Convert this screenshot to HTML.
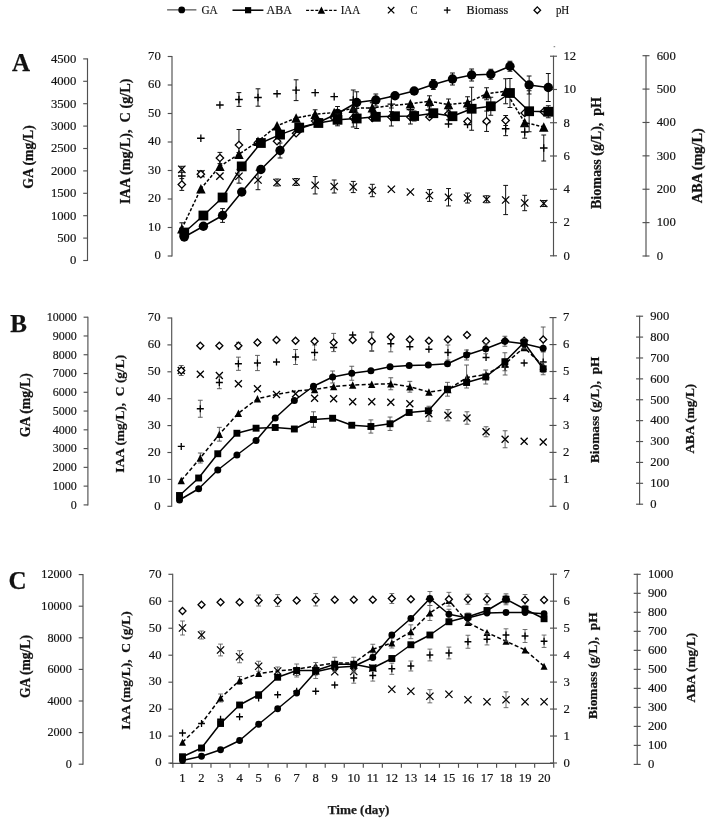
<!DOCTYPE html>
<html><head><meta charset="utf-8"><title>Figure</title>
<style>html,body{margin:0;padding:0;background:#fff;}svg{display:block;font-family:"Liberation Serif",serif;filter:blur(0.45px);}</style>
</head><body>
<svg width="708" height="821" viewBox="0 0 708 821">
<rect width="708" height="821" fill="#fff"/>
<line x1="167.10" y1="9.90" x2="196.40" y2="9.90" stroke="#2a2a2a" stroke-width="1.0" />
<circle cx="181.70" cy="9.90" r="3.4" fill="#000"/>
<text x="201.40" y="14.40" font-size="13.2" text-anchor="start" font-weight="normal" fill="#141414" stroke="#141414" stroke-width="0.2"  textLength="16.3" lengthAdjust="spacingAndGlyphs">GA</text>
<line x1="232.50" y1="10.20" x2="263.40" y2="10.20" stroke="#000" stroke-width="1.5" />
<rect x="245.00" y="7.10" width="6.2" height="6.2" fill="#000"/>
<text x="266.60" y="14.40" font-size="13.2" text-anchor="start" font-weight="normal" fill="#141414" stroke="#141414" stroke-width="0.2"  textLength="25.2" lengthAdjust="spacingAndGlyphs">ABA</text>
<line x1="306.10" y1="10.40" x2="336.60" y2="10.40" stroke="#000" stroke-width="1.3" stroke-dasharray="3 1.6"/>
<path d="M321.40 6.40 L325.10 13.80 L317.70 13.80Z" fill="#000"/>
<text x="340.70" y="14.40" font-size="13.2" text-anchor="start" font-weight="normal" fill="#141414" stroke="#141414" stroke-width="0.2"  textLength="19.6" lengthAdjust="spacingAndGlyphs">IAA</text>
<path d="M387.90 7.00L394.30 13.40M387.90 13.40L394.30 7.00" stroke="#000" stroke-width="1.25" fill="none"/>
<text x="410.60" y="14.40" font-size="13.2" text-anchor="start" font-weight="normal" fill="#141414" stroke="#141414" stroke-width="0.2"  textLength="6.9" lengthAdjust="spacingAndGlyphs">C</text>
<path d="M443.90 10.20L450.50 10.20M447.20 6.90L447.20 13.50" stroke="#000" stroke-width="1.25" fill="none"/>
<text x="466.60" y="14.40" font-size="13.2" text-anchor="start" font-weight="normal" fill="#141414" stroke="#141414" stroke-width="0.2"  textLength="41.6" lengthAdjust="spacingAndGlyphs">Biomass</text>
<path d="M537.30 6.90L540.60 10.20L537.30 13.50L534.00 10.20Z" stroke="#000" stroke-width="1.25" fill="#fff"/>
<text x="555.90" y="14.40" font-size="13.2" text-anchor="start" font-weight="normal" fill="#141414" stroke="#141414" stroke-width="0.2"  textLength="13.4" lengthAdjust="spacingAndGlyphs">pH</text>
<line x1="87.50" y1="58.40" x2="87.50" y2="261.00" stroke="#505050" stroke-width="1.15" />
<line x1="83.20" y1="260.50" x2="87.50" y2="260.50" stroke="#505050" stroke-width="1.15" />
<text x="0" y="0" font-size="13.334999999999999" text-anchor="end" font-weight="normal" fill="#141414" stroke="#141414" stroke-width="0.2" transform="translate(76.30 264.30) scale(0.952 1)" >0</text>
<line x1="83.20" y1="238.10" x2="87.50" y2="238.10" stroke="#505050" stroke-width="1.15" />
<text x="0" y="0" font-size="13.334999999999999" text-anchor="end" font-weight="normal" fill="#141414" stroke="#141414" stroke-width="0.2" transform="translate(76.30 241.90) scale(0.952 1)" >500</text>
<line x1="83.20" y1="215.70" x2="87.50" y2="215.70" stroke="#505050" stroke-width="1.15" />
<text x="0" y="0" font-size="13.334999999999999" text-anchor="end" font-weight="normal" fill="#141414" stroke="#141414" stroke-width="0.2" transform="translate(76.30 219.50) scale(0.952 1)" >1000</text>
<line x1="83.20" y1="193.30" x2="87.50" y2="193.30" stroke="#505050" stroke-width="1.15" />
<text x="0" y="0" font-size="13.334999999999999" text-anchor="end" font-weight="normal" fill="#141414" stroke="#141414" stroke-width="0.2" transform="translate(76.30 197.10) scale(0.952 1)" >1500</text>
<line x1="83.20" y1="170.90" x2="87.50" y2="170.90" stroke="#505050" stroke-width="1.15" />
<text x="0" y="0" font-size="13.334999999999999" text-anchor="end" font-weight="normal" fill="#141414" stroke="#141414" stroke-width="0.2" transform="translate(76.30 174.70) scale(0.952 1)" >2000</text>
<line x1="83.20" y1="148.50" x2="87.50" y2="148.50" stroke="#505050" stroke-width="1.15" />
<text x="0" y="0" font-size="13.334999999999999" text-anchor="end" font-weight="normal" fill="#141414" stroke="#141414" stroke-width="0.2" transform="translate(76.30 152.30) scale(0.952 1)" >2500</text>
<line x1="83.20" y1="126.10" x2="87.50" y2="126.10" stroke="#505050" stroke-width="1.15" />
<text x="0" y="0" font-size="13.334999999999999" text-anchor="end" font-weight="normal" fill="#141414" stroke="#141414" stroke-width="0.2" transform="translate(76.30 129.90) scale(0.952 1)" >3000</text>
<line x1="83.20" y1="103.70" x2="87.50" y2="103.70" stroke="#505050" stroke-width="1.15" />
<text x="0" y="0" font-size="13.334999999999999" text-anchor="end" font-weight="normal" fill="#141414" stroke="#141414" stroke-width="0.2" transform="translate(76.30 107.50) scale(0.952 1)" >3500</text>
<line x1="83.20" y1="81.30" x2="87.50" y2="81.30" stroke="#505050" stroke-width="1.15" />
<text x="0" y="0" font-size="13.334999999999999" text-anchor="end" font-weight="normal" fill="#141414" stroke="#141414" stroke-width="0.2" transform="translate(76.30 85.10) scale(0.952 1)" >4000</text>
<line x1="83.20" y1="58.90" x2="87.50" y2="58.90" stroke="#505050" stroke-width="1.15" />
<text x="0" y="0" font-size="13.334999999999999" text-anchor="end" font-weight="normal" fill="#141414" stroke="#141414" stroke-width="0.2" transform="translate(76.30 62.70) scale(0.952 1)" >4500</text>
<line x1="172.00" y1="56.00" x2="172.00" y2="256.50" stroke="#505050" stroke-width="1.15" />
<line x1="167.70" y1="256.00" x2="172.00" y2="256.00" stroke="#505050" stroke-width="1.15" />
<text x="0" y="0" font-size="13.334999999999999" text-anchor="end" font-weight="normal" fill="#141414" stroke="#141414" stroke-width="0.2" transform="translate(160.80 259.30) scale(0.952 1)" >0</text>
<line x1="167.70" y1="227.50" x2="172.00" y2="227.50" stroke="#505050" stroke-width="1.15" />
<text x="0" y="0" font-size="13.334999999999999" text-anchor="end" font-weight="normal" fill="#141414" stroke="#141414" stroke-width="0.2" transform="translate(160.80 230.80) scale(0.952 1)" >10</text>
<line x1="167.70" y1="199.00" x2="172.00" y2="199.00" stroke="#505050" stroke-width="1.15" />
<text x="0" y="0" font-size="13.334999999999999" text-anchor="end" font-weight="normal" fill="#141414" stroke="#141414" stroke-width="0.2" transform="translate(160.80 202.30) scale(0.952 1)" >20</text>
<line x1="167.70" y1="170.50" x2="172.00" y2="170.50" stroke="#505050" stroke-width="1.15" />
<text x="0" y="0" font-size="13.334999999999999" text-anchor="end" font-weight="normal" fill="#141414" stroke="#141414" stroke-width="0.2" transform="translate(160.80 173.80) scale(0.952 1)" >30</text>
<line x1="167.70" y1="142.00" x2="172.00" y2="142.00" stroke="#505050" stroke-width="1.15" />
<text x="0" y="0" font-size="13.334999999999999" text-anchor="end" font-weight="normal" fill="#141414" stroke="#141414" stroke-width="0.2" transform="translate(160.80 145.30) scale(0.952 1)" >40</text>
<line x1="167.70" y1="113.50" x2="172.00" y2="113.50" stroke="#505050" stroke-width="1.15" />
<text x="0" y="0" font-size="13.334999999999999" text-anchor="end" font-weight="normal" fill="#141414" stroke="#141414" stroke-width="0.2" transform="translate(160.80 116.80) scale(0.952 1)" >50</text>
<line x1="167.70" y1="85.00" x2="172.00" y2="85.00" stroke="#505050" stroke-width="1.15" />
<text x="0" y="0" font-size="13.334999999999999" text-anchor="end" font-weight="normal" fill="#141414" stroke="#141414" stroke-width="0.2" transform="translate(160.80 88.30) scale(0.952 1)" >60</text>
<line x1="167.70" y1="56.50" x2="172.00" y2="56.50" stroke="#505050" stroke-width="1.15" />
<text x="0" y="0" font-size="13.334999999999999" text-anchor="end" font-weight="normal" fill="#141414" stroke="#141414" stroke-width="0.2" transform="translate(160.80 59.80) scale(0.952 1)" >70</text>
<line x1="553.50" y1="55.70" x2="553.50" y2="256.30" stroke="#505050" stroke-width="1.15" />
<line x1="550.00" y1="255.80" x2="557.00" y2="255.80" stroke="#505050" stroke-width="1.15" />
<text x="0" y="0" font-size="13.334999999999999" text-anchor="start" font-weight="normal" fill="#141414" stroke="#141414" stroke-width="0.2" transform="translate(563.50 259.60) scale(0.952 1)" >0</text>
<line x1="550.00" y1="222.53" x2="557.00" y2="222.53" stroke="#505050" stroke-width="1.15" />
<text x="0" y="0" font-size="13.334999999999999" text-anchor="start" font-weight="normal" fill="#141414" stroke="#141414" stroke-width="0.2" transform="translate(563.50 226.33) scale(0.952 1)" >2</text>
<line x1="550.00" y1="189.27" x2="557.00" y2="189.27" stroke="#505050" stroke-width="1.15" />
<text x="0" y="0" font-size="13.334999999999999" text-anchor="start" font-weight="normal" fill="#141414" stroke="#141414" stroke-width="0.2" transform="translate(563.50 193.07) scale(0.952 1)" >4</text>
<line x1="550.00" y1="156.00" x2="557.00" y2="156.00" stroke="#505050" stroke-width="1.15" />
<text x="0" y="0" font-size="13.334999999999999" text-anchor="start" font-weight="normal" fill="#141414" stroke="#141414" stroke-width="0.2" transform="translate(563.50 159.80) scale(0.952 1)" >6</text>
<line x1="550.00" y1="122.73" x2="557.00" y2="122.73" stroke="#505050" stroke-width="1.15" />
<text x="0" y="0" font-size="13.334999999999999" text-anchor="start" font-weight="normal" fill="#141414" stroke="#141414" stroke-width="0.2" transform="translate(563.50 126.53) scale(0.952 1)" >8</text>
<line x1="550.00" y1="89.47" x2="557.00" y2="89.47" stroke="#505050" stroke-width="1.15" />
<text x="0" y="0" font-size="13.334999999999999" text-anchor="start" font-weight="normal" fill="#141414" stroke="#141414" stroke-width="0.2" transform="translate(563.50 93.27) scale(0.952 1)" >10</text>
<line x1="550.00" y1="56.20" x2="557.00" y2="56.20" stroke="#505050" stroke-width="1.15" />
<text x="0" y="0" font-size="13.334999999999999" text-anchor="start" font-weight="normal" fill="#141414" stroke="#141414" stroke-width="0.2" transform="translate(563.50 60.00) scale(0.952 1)" >12</text>
<line x1="646.00" y1="55.20" x2="646.00" y2="256.50" stroke="#505050" stroke-width="1.15" />
<line x1="642.50" y1="256.00" x2="649.50" y2="256.00" stroke="#505050" stroke-width="1.15" />
<text x="0" y="0" font-size="13.334999999999999" text-anchor="start" font-weight="normal" fill="#141414" stroke="#141414" stroke-width="0.2" transform="translate(656.70 259.80) scale(0.952 1)" >0</text>
<line x1="642.50" y1="222.62" x2="649.50" y2="222.62" stroke="#505050" stroke-width="1.15" />
<text x="0" y="0" font-size="13.334999999999999" text-anchor="start" font-weight="normal" fill="#141414" stroke="#141414" stroke-width="0.2" transform="translate(656.70 226.42) scale(0.952 1)" >100</text>
<line x1="642.50" y1="189.23" x2="649.50" y2="189.23" stroke="#505050" stroke-width="1.15" />
<text x="0" y="0" font-size="13.334999999999999" text-anchor="start" font-weight="normal" fill="#141414" stroke="#141414" stroke-width="0.2" transform="translate(656.70 193.03) scale(0.952 1)" >200</text>
<line x1="642.50" y1="155.85" x2="649.50" y2="155.85" stroke="#505050" stroke-width="1.15" />
<text x="0" y="0" font-size="13.334999999999999" text-anchor="start" font-weight="normal" fill="#141414" stroke="#141414" stroke-width="0.2" transform="translate(656.70 159.65) scale(0.952 1)" >300</text>
<line x1="642.50" y1="122.47" x2="649.50" y2="122.47" stroke="#505050" stroke-width="1.15" />
<text x="0" y="0" font-size="13.334999999999999" text-anchor="start" font-weight="normal" fill="#141414" stroke="#141414" stroke-width="0.2" transform="translate(656.70 126.27) scale(0.952 1)" >400</text>
<line x1="642.50" y1="89.08" x2="649.50" y2="89.08" stroke="#505050" stroke-width="1.15" />
<text x="0" y="0" font-size="13.334999999999999" text-anchor="start" font-weight="normal" fill="#141414" stroke="#141414" stroke-width="0.2" transform="translate(656.70 92.88) scale(0.952 1)" >500</text>
<line x1="642.50" y1="55.70" x2="649.50" y2="55.70" stroke="#505050" stroke-width="1.15" />
<text x="0" y="0" font-size="13.334999999999999" text-anchor="start" font-weight="normal" fill="#141414" stroke="#141414" stroke-width="0.2" transform="translate(656.70 59.50) scale(0.952 1)" >600</text>
<text x="33.00" y="157.00" font-size="13.7" text-anchor="middle" font-weight="bold" fill="#111" stroke="#111" stroke-width="0.25" transform="rotate(-90 33.00 157.00)" >GA (mg/L)</text>
<text x="130.50" y="141.20" font-size="14.25" text-anchor="middle" font-weight="bold" fill="#111" stroke="#111" stroke-width="0.25" transform="rotate(-90 130.50 141.20)" >IAA (mg/L),&#160; C (g/L)</text>
<text x="601.20" y="153.00" font-size="14" text-anchor="middle" font-weight="bold" fill="#111" stroke="#111" stroke-width="0.25" transform="rotate(-90 601.20 153.00)" >Biomass (g/L),&#160; pH</text>
<text x="701.80" y="165.80" font-size="14.3" text-anchor="middle" font-weight="bold" fill="#111" stroke="#111" stroke-width="0.25" transform="rotate(-90 701.80 165.80)" >ABA (mg/L)</text>
<text x="12.00" y="71.00" font-size="25" text-anchor="start" font-weight="bold" fill="#111" stroke="#111" stroke-width="0.25" >A</text>
<path d="M181.80 222.80L181.80 228.80M179.40 222.80L184.20 222.80M179.40 228.80L184.20 228.80" stroke="#111111" stroke-width="1.0" fill="none"/>
<path d="M315.15 109.80L315.15 118.80M312.75 109.80L317.55 109.80M312.75 118.80L317.55 118.80" stroke="#111111" stroke-width="1.0" fill="none"/>
<path d="M372.30 102.80L372.30 112.80M369.90 102.80L374.70 102.80M369.90 112.80L374.70 112.80" stroke="#111111" stroke-width="1.0" fill="none"/>
<path d="M429.45 95.80L429.45 106.80M427.05 95.80L431.85 95.80M427.05 106.80L431.85 106.80" stroke="#111111" stroke-width="1.0" fill="none"/>
<path d="M448.50 99.00L448.50 110.00M446.10 99.00L450.90 99.00M446.10 110.00L450.90 110.00" stroke="#111111" stroke-width="1.0" fill="none"/>
<path d="M467.55 96.75L467.55 108.75M465.15 96.75L469.95 96.75M465.15 108.75L469.95 108.75" stroke="#111111" stroke-width="1.0" fill="none"/>
<path d="M486.60 87.75L486.60 99.75M484.20 87.75L489.00 87.75M484.20 99.75L489.00 99.75" stroke="#111111" stroke-width="1.0" fill="none"/>
<path d="M505.65 78.75L505.65 103.75M503.25 78.75L508.05 78.75M503.25 103.75L508.05 103.75" stroke="#111111" stroke-width="1.0" fill="none"/>
<polyline points="181.80,228.80 200.85,188.75 219.90,166.20 238.95,154.20 258.00,141.25 277.05,125.80 296.10,118.00 315.15,114.30 334.20,112.50 353.25,108.30 372.30,107.80 391.35,105.70 410.40,103.70 429.45,101.30 448.50,104.50 467.55,102.75 486.60,93.75 505.65,91.25 524.70,122.50 543.75,127.00" fill="none" stroke="#000" stroke-width="1.5" stroke-dasharray="3.1 1.8" stroke-linejoin="round"/>
<path d="M181.80 224.05 L186.55 233.55 L177.05 233.55Z" fill="#000"/>
<path d="M200.85 184.00 L205.60 193.50 L196.10 193.50Z" fill="#000"/>
<path d="M219.90 161.45 L224.65 170.95 L215.15 170.95Z" fill="#000"/>
<path d="M238.95 149.45 L243.70 158.95 L234.20 158.95Z" fill="#000"/>
<path d="M258.00 136.50 L262.75 146.00 L253.25 146.00Z" fill="#000"/>
<path d="M277.05 121.05 L281.80 130.55 L272.30 130.55Z" fill="#000"/>
<path d="M296.10 113.25 L300.85 122.75 L291.35 122.75Z" fill="#000"/>
<path d="M315.15 109.55 L319.90 119.05 L310.40 119.05Z" fill="#000"/>
<path d="M334.20 107.75 L338.95 117.25 L329.45 117.25Z" fill="#000"/>
<path d="M353.25 103.55 L358.00 113.05 L348.50 113.05Z" fill="#000"/>
<path d="M372.30 103.05 L377.05 112.55 L367.55 112.55Z" fill="#000"/>
<path d="M410.40 98.95 L415.15 108.45 L405.65 108.45Z" fill="#000"/>
<path d="M429.45 96.55 L434.20 106.05 L424.70 106.05Z" fill="#000"/>
<path d="M448.50 99.75 L453.25 109.25 L443.75 109.25Z" fill="#000"/>
<path d="M467.55 98.00 L472.30 107.50 L462.80 107.50Z" fill="#000"/>
<path d="M486.60 89.00 L491.35 98.50 L481.85 98.50Z" fill="#000"/>
<path d="M505.65 86.50 L510.40 96.00 L500.90 96.00Z" fill="#000"/>
<path d="M524.70 117.75 L529.45 127.25 L519.95 127.25Z" fill="#000"/>
<path d="M543.75 122.25 L548.50 131.75 L539.00 131.75Z" fill="#000"/>
<path d="M181.80 166.30L181.80 172.30M179.40 166.30L184.20 166.30M179.40 172.30L184.20 172.30" stroke="#111111" stroke-width="1.0" fill="none"/>
<path d="M200.85 170.75L200.85 176.75M198.45 170.75L203.25 170.75M198.45 176.75L203.25 176.75" stroke="#111111" stroke-width="1.0" fill="none"/>
<path d="M238.95 169.35L238.95 183.15M236.55 169.35L241.35 169.35M236.55 183.15L241.35 183.15" stroke="#111111" stroke-width="1.0" fill="none"/>
<path d="M258.00 170.30L258.00 189.70M255.60 170.30L260.40 170.30M255.60 189.70L260.40 189.70" stroke="#111111" stroke-width="1.0" fill="none"/>
<path d="M277.05 179.00L277.05 186.00M274.65 179.00L279.45 179.00M274.65 186.00L279.45 186.00" stroke="#111111" stroke-width="1.0" fill="none"/>
<path d="M296.10 178.50L296.10 185.50M293.70 178.50L298.50 178.50M293.70 185.50L298.50 185.50" stroke="#111111" stroke-width="1.0" fill="none"/>
<path d="M315.15 176.55L315.15 193.95M312.75 176.55L317.55 176.55M312.75 193.95L317.55 193.95" stroke="#111111" stroke-width="1.0" fill="none"/>
<path d="M334.20 180.00L334.20 193.00M331.80 180.00L336.60 180.00M331.80 193.00L336.60 193.00" stroke="#111111" stroke-width="1.0" fill="none"/>
<path d="M353.25 181.40L353.25 192.60M350.85 181.40L355.65 181.40M350.85 192.60L355.65 192.60" stroke="#111111" stroke-width="1.0" fill="none"/>
<path d="M372.30 184.30L372.30 196.70M369.90 184.30L374.70 184.30M369.90 196.70L374.70 196.70" stroke="#111111" stroke-width="1.0" fill="none"/>
<path d="M429.45 189.60L429.45 201.40M427.05 189.60L431.85 189.60M427.05 201.40L431.85 201.40" stroke="#111111" stroke-width="1.0" fill="none"/>
<path d="M448.50 188.55L448.50 205.95M446.10 188.55L450.90 188.55M446.10 205.95L450.90 205.95" stroke="#111111" stroke-width="1.0" fill="none"/>
<path d="M467.55 193.00L467.55 203.00M465.15 193.00L469.95 193.00M465.15 203.00L469.95 203.00" stroke="#111111" stroke-width="1.0" fill="none"/>
<path d="M486.60 195.75L486.60 202.75M484.20 195.75L489.00 195.75M484.20 202.75L489.00 202.75" stroke="#111111" stroke-width="1.0" fill="none"/>
<path d="M505.65 185.40L505.65 214.60M503.25 185.40L508.05 185.40M503.25 214.60L508.05 214.60" stroke="#111111" stroke-width="1.0" fill="none"/>
<path d="M524.70 195.30L524.70 210.70M522.30 195.30L527.10 195.30M522.30 210.70L527.10 210.70" stroke="#111111" stroke-width="1.0" fill="none"/>
<path d="M543.75 200.50L543.75 206.50M541.35 200.50L546.15 200.50M541.35 206.50L546.15 206.50" stroke="#111111" stroke-width="1.0" fill="none"/>
<path d="M178.15 165.65L185.45 172.95M178.15 172.95L185.45 165.65" stroke="#000" stroke-width="1.3" fill="none"/>
<path d="M197.20 170.10L204.50 177.40M197.20 177.40L204.50 170.10" stroke="#000" stroke-width="1.3" fill="none"/>
<path d="M216.25 172.45L223.55 179.75M216.25 179.75L223.55 172.45" stroke="#000" stroke-width="1.3" fill="none"/>
<path d="M235.30 172.60L242.60 179.90M235.30 179.90L242.60 172.60" stroke="#000" stroke-width="1.3" fill="none"/>
<path d="M254.35 176.35L261.65 183.65M254.35 183.65L261.65 176.35" stroke="#000" stroke-width="1.3" fill="none"/>
<path d="M273.40 178.85L280.70 186.15M273.40 186.15L280.70 178.85" stroke="#000" stroke-width="1.3" fill="none"/>
<path d="M292.45 178.35L299.75 185.65M292.45 185.65L299.75 178.35" stroke="#000" stroke-width="1.3" fill="none"/>
<path d="M311.50 181.60L318.80 188.90M311.50 188.90L318.80 181.60" stroke="#000" stroke-width="1.3" fill="none"/>
<path d="M330.55 182.85L337.85 190.15M330.55 190.15L337.85 182.85" stroke="#000" stroke-width="1.3" fill="none"/>
<path d="M349.60 183.35L356.90 190.65M349.60 190.65L356.90 183.35" stroke="#000" stroke-width="1.3" fill="none"/>
<path d="M368.65 186.85L375.95 194.15M368.65 194.15L375.95 186.85" stroke="#000" stroke-width="1.3" fill="none"/>
<path d="M387.70 185.60L395.00 192.90M387.70 192.90L395.00 185.60" stroke="#000" stroke-width="1.3" fill="none"/>
<path d="M406.75 188.35L414.05 195.65M406.75 195.65L414.05 188.35" stroke="#000" stroke-width="1.3" fill="none"/>
<path d="M425.80 191.85L433.10 199.15M425.80 199.15L433.10 191.85" stroke="#000" stroke-width="1.3" fill="none"/>
<path d="M444.85 193.60L452.15 200.90M444.85 200.90L452.15 193.60" stroke="#000" stroke-width="1.3" fill="none"/>
<path d="M463.90 194.35L471.20 201.65M463.90 201.65L471.20 194.35" stroke="#000" stroke-width="1.3" fill="none"/>
<path d="M482.95 195.60L490.25 202.90M482.95 202.90L490.25 195.60" stroke="#000" stroke-width="1.3" fill="none"/>
<path d="M502.00 196.35L509.30 203.65M502.00 203.65L509.30 196.35" stroke="#000" stroke-width="1.3" fill="none"/>
<path d="M521.05 199.35L528.35 206.65M521.05 206.65L528.35 199.35" stroke="#000" stroke-width="1.3" fill="none"/>
<path d="M540.10 199.85L547.40 207.15M540.10 207.15L547.40 199.85" stroke="#000" stroke-width="1.3" fill="none"/>
<path d="M238.95 92.60L238.95 106.40M236.55 92.60L241.35 92.60M236.55 106.40L241.35 106.40" stroke="#111111" stroke-width="1.0" fill="none"/>
<path d="M258.00 88.80L258.00 106.20M255.60 88.80L260.40 88.80M255.60 106.20L260.40 106.20" stroke="#111111" stroke-width="1.0" fill="none"/>
<path d="M296.10 79.80L296.10 100.60M293.70 79.80L298.50 79.80M293.70 100.60L298.50 100.60" stroke="#111111" stroke-width="1.0" fill="none"/>
<path d="M353.25 90.00L353.25 110.00M350.85 90.00L355.65 90.00M350.85 110.00L355.65 110.00" stroke="#111111" stroke-width="1.0" fill="none"/>
<path d="M372.30 102.00L372.30 114.00M369.90 102.00L374.70 102.00M369.90 114.00L374.70 114.00" stroke="#111111" stroke-width="1.0" fill="none"/>
<path d="M391.35 96.70L391.35 111.70M388.95 96.70L393.75 96.70M388.95 111.70L393.75 111.70" stroke="#111111" stroke-width="1.0" fill="none"/>
<path d="M429.45 104.00L429.45 116.00M427.05 104.00L431.85 104.00M427.05 116.00L431.85 116.00" stroke="#111111" stroke-width="1.0" fill="none"/>
<path d="M505.65 121.85L505.65 135.65M503.25 121.85L508.05 121.85M503.25 135.65L508.05 135.65" stroke="#111111" stroke-width="1.0" fill="none"/>
<path d="M524.70 125.80L524.70 138.20M522.30 125.80L527.10 125.80M522.30 138.20L527.10 138.20" stroke="#111111" stroke-width="1.0" fill="none"/>
<path d="M543.75 135.00L543.75 161.00M541.35 135.00L546.15 135.00M541.35 161.00L546.15 161.00" stroke="#111111" stroke-width="1.0" fill="none"/>
<path d="M178.00 176.00L185.60 176.00M181.80 172.20L181.80 179.80" stroke="#000" stroke-width="1.3" fill="none"/>
<path d="M197.05 138.25L204.65 138.25M200.85 134.45L200.85 142.05" stroke="#000" stroke-width="1.3" fill="none"/>
<path d="M216.10 105.00L223.70 105.00M219.90 101.20L219.90 108.80" stroke="#000" stroke-width="1.3" fill="none"/>
<path d="M235.15 99.50L242.75 99.50M238.95 95.70L238.95 103.30" stroke="#000" stroke-width="1.3" fill="none"/>
<path d="M254.20 97.50L261.80 97.50M258.00 93.70L258.00 101.30" stroke="#000" stroke-width="1.3" fill="none"/>
<path d="M273.25 93.75L280.85 93.75M277.05 89.95L277.05 97.55" stroke="#000" stroke-width="1.3" fill="none"/>
<path d="M292.30 90.20L299.90 90.20M296.10 86.40L296.10 94.00" stroke="#000" stroke-width="1.3" fill="none"/>
<path d="M311.35 92.70L318.95 92.70M315.15 88.90L315.15 96.50" stroke="#000" stroke-width="1.3" fill="none"/>
<path d="M330.40 96.60L338.00 96.60M334.20 92.80L334.20 100.40" stroke="#000" stroke-width="1.3" fill="none"/>
<path d="M349.45 100.00L357.05 100.00M353.25 96.20L353.25 103.80" stroke="#000" stroke-width="1.3" fill="none"/>
<path d="M368.50 108.00L376.10 108.00M372.30 104.20L372.30 111.80" stroke="#000" stroke-width="1.3" fill="none"/>
<path d="M387.55 104.20L395.15 104.20M391.35 100.40L391.35 108.00" stroke="#000" stroke-width="1.3" fill="none"/>
<path d="M406.60 109.60L414.20 109.60M410.40 105.80L410.40 113.40" stroke="#000" stroke-width="1.3" fill="none"/>
<path d="M425.65 110.00L433.25 110.00M429.45 106.20L429.45 113.80" stroke="#000" stroke-width="1.3" fill="none"/>
<path d="M444.70 124.00L452.30 124.00M448.50 120.20L448.50 127.80" stroke="#000" stroke-width="1.3" fill="none"/>
<path d="M463.75 124.50L471.35 124.50M467.55 120.70L467.55 128.30" stroke="#000" stroke-width="1.3" fill="none"/>
<path d="M482.80 122.50L490.40 122.50M486.60 118.70L486.60 126.30" stroke="#000" stroke-width="1.3" fill="none"/>
<path d="M501.85 128.75L509.45 128.75M505.65 124.95L505.65 132.55" stroke="#000" stroke-width="1.3" fill="none"/>
<path d="M520.90 132.00L528.50 132.00M524.70 128.20L524.70 135.80" stroke="#000" stroke-width="1.3" fill="none"/>
<path d="M539.95 148.00L547.55 148.00M543.75 144.20L543.75 151.80" stroke="#000" stroke-width="1.3" fill="none"/>
<path d="M181.80 178.60L181.80 190.40M179.40 178.60L184.20 178.60M179.40 190.40L184.20 190.40" stroke="#111111" stroke-width="1.0" fill="none"/>
<path d="M219.90 152.40L219.90 163.60M217.50 152.40L222.30 152.40M217.50 163.60L222.30 163.60" stroke="#111111" stroke-width="1.0" fill="none"/>
<path d="M238.95 129.50L238.95 152.50M236.55 129.50L241.35 129.50M236.55 152.50L241.35 152.50" stroke="#111111" stroke-width="1.0" fill="none"/>
<path d="M353.25 109.00L353.25 127.00M350.85 109.00L355.65 109.00M350.85 127.00L355.65 127.00" stroke="#111111" stroke-width="1.0" fill="none"/>
<path d="M391.35 108.00L391.35 126.00M388.95 108.00L393.75 108.00M388.95 126.00L393.75 126.00" stroke="#111111" stroke-width="1.0" fill="none"/>
<path d="M410.40 110.00L410.40 124.00M408.00 110.00L412.80 110.00M408.00 124.00L412.80 124.00" stroke="#111111" stroke-width="1.0" fill="none"/>
<path d="M448.50 107.75L448.50 119.75M446.10 107.75L450.90 107.75M446.10 119.75L450.90 119.75" stroke="#111111" stroke-width="1.0" fill="none"/>
<path d="M486.60 111.05L486.60 131.45M484.20 111.05L489.00 111.05M484.20 131.45L489.00 131.45" stroke="#111111" stroke-width="1.0" fill="none"/>
<path d="M505.65 115.50L505.65 125.50M503.25 115.50L508.05 115.50M503.25 125.50L508.05 125.50" stroke="#111111" stroke-width="1.0" fill="none"/>
<path d="M181.80 180.80L185.50 184.50L181.80 188.20L178.10 184.50Z" stroke="#000" stroke-width="1.3" fill="#fff"/>
<path d="M200.85 170.55L204.55 174.25L200.85 177.95L197.15 174.25Z" stroke="#000" stroke-width="1.3" fill="#fff"/>
<path d="M219.90 154.30L223.60 158.00L219.90 161.70L216.20 158.00Z" stroke="#000" stroke-width="1.3" fill="#fff"/>
<path d="M238.95 141.30L242.65 145.00L238.95 148.70L235.25 145.00Z" stroke="#000" stroke-width="1.3" fill="#fff"/>
<path d="M258.00 138.80L261.70 142.50L258.00 146.20L254.30 142.50Z" stroke="#000" stroke-width="1.3" fill="#fff"/>
<path d="M277.05 137.55L280.75 141.25L277.05 144.95L273.35 141.25Z" stroke="#000" stroke-width="1.3" fill="#fff"/>
<path d="M296.10 129.55L299.80 133.25L296.10 136.95L292.40 133.25Z" stroke="#000" stroke-width="1.3" fill="#fff"/>
<path d="M315.15 117.30L318.85 121.00L315.15 124.70L311.45 121.00Z" stroke="#000" stroke-width="1.3" fill="#fff"/>
<path d="M334.20 114.30L337.90 118.00L334.20 121.70L330.50 118.00Z" stroke="#000" stroke-width="1.3" fill="#fff"/>
<path d="M353.25 114.30L356.95 118.00L353.25 121.70L349.55 118.00Z" stroke="#000" stroke-width="1.3" fill="#fff"/>
<path d="M372.30 114.30L376.00 118.00L372.30 121.70L368.60 118.00Z" stroke="#000" stroke-width="1.3" fill="#fff"/>
<path d="M391.35 113.30L395.05 117.00L391.35 120.70L387.65 117.00Z" stroke="#000" stroke-width="1.3" fill="#fff"/>
<path d="M410.40 113.30L414.10 117.00L410.40 120.70L406.70 117.00Z" stroke="#000" stroke-width="1.3" fill="#fff"/>
<path d="M429.45 113.30L433.15 117.00L429.45 120.70L425.75 117.00Z" stroke="#000" stroke-width="1.3" fill="#fff"/>
<path d="M448.50 110.05L452.20 113.75L448.50 117.45L444.80 113.75Z" stroke="#000" stroke-width="1.3" fill="#fff"/>
<path d="M467.55 117.80L471.25 121.50L467.55 125.20L463.85 121.50Z" stroke="#000" stroke-width="1.3" fill="#fff"/>
<path d="M486.60 117.55L490.30 121.25L486.60 124.95L482.90 121.25Z" stroke="#000" stroke-width="1.3" fill="#fff"/>
<path d="M505.65 116.80L509.35 120.50L505.65 124.20L501.95 120.50Z" stroke="#000" stroke-width="1.3" fill="#fff"/>
<path d="M524.70 109.30L528.40 113.00L524.70 116.70L521.00 113.00Z" stroke="#000" stroke-width="1.3" fill="#fff"/>
<path d="M543.75 108.05L547.45 111.75L543.75 115.45L540.05 111.75Z" stroke="#000" stroke-width="1.3" fill="#fff"/>
<path d="M222.57 208.60L222.57 222.40M220.17 208.60L224.97 208.60M220.17 222.40L224.97 222.40" stroke="#111111" stroke-width="1.0" fill="none"/>
<path d="M280.05 143.00L280.05 158.00M277.65 143.00L282.45 143.00M277.65 158.00L282.45 158.00" stroke="#111111" stroke-width="1.0" fill="none"/>
<path d="M337.53 106.50L337.53 120.50M335.13 106.50L339.93 106.50M335.13 120.50L339.93 120.50" stroke="#111111" stroke-width="1.0" fill="none"/>
<path d="M356.69 91.80L356.69 113.20M354.29 91.80L359.09 91.80M354.29 113.20L359.09 113.20" stroke="#111111" stroke-width="1.0" fill="none"/>
<path d="M375.85 94.00L375.85 106.00M373.45 94.00L378.25 94.00M373.45 106.00L378.25 106.00" stroke="#111111" stroke-width="1.0" fill="none"/>
<path d="M433.33 79.50L433.33 89.50M430.93 79.50L435.73 79.50M430.93 89.50L435.73 89.50" stroke="#111111" stroke-width="1.0" fill="none"/>
<path d="M452.49 73.00L452.49 85.00M450.09 73.00L454.89 73.00M450.09 85.00L454.89 85.00" stroke="#111111" stroke-width="1.0" fill="none"/>
<path d="M471.65 69.00L471.65 81.00M469.25 69.00L474.05 69.00M469.25 81.00L474.05 81.00" stroke="#111111" stroke-width="1.0" fill="none"/>
<path d="M490.81 69.25L490.81 79.25M488.41 69.25L493.21 69.25M488.41 79.25L493.21 79.25" stroke="#111111" stroke-width="1.0" fill="none"/>
<path d="M509.97 61.25L509.97 71.25M507.57 61.25L512.37 61.25M507.57 71.25L512.37 71.25" stroke="#111111" stroke-width="1.0" fill="none"/>
<path d="M529.13 76.00L529.13 94.00M526.73 76.00L531.53 76.00M526.73 94.00L531.53 94.00" stroke="#111111" stroke-width="1.0" fill="none"/>
<path d="M548.29 73.50L548.29 101.50M545.89 73.50L550.69 73.50M545.89 101.50L550.69 101.50" stroke="#111111" stroke-width="1.0" fill="none"/>
<polyline points="184.25,237.00 203.41,226.25 222.57,215.50 241.73,192.00 260.89,169.50 280.05,150.50 299.21,128.75 318.37,122.50 337.53,113.50 356.69,102.50 375.85,100.00 395.01,95.80 414.17,91.00 433.33,84.50 452.49,79.00 471.65,75.00 490.81,74.25 509.97,66.25 529.13,85.00 548.29,87.50" fill="none" stroke="#000" stroke-width="1.5" stroke-linejoin="round"/>
<circle cx="184.25" cy="237.00" r="4.7" fill="#000"/>
<circle cx="203.41" cy="226.25" r="4.7" fill="#000"/>
<circle cx="222.57" cy="215.50" r="4.7" fill="#000"/>
<circle cx="241.73" cy="192.00" r="4.7" fill="#000"/>
<circle cx="260.89" cy="169.50" r="4.7" fill="#000"/>
<circle cx="280.05" cy="150.50" r="4.7" fill="#000"/>
<circle cx="299.21" cy="128.75" r="4.7" fill="#000"/>
<circle cx="318.37" cy="122.50" r="4.7" fill="#000"/>
<circle cx="337.53" cy="113.50" r="4.7" fill="#000"/>
<circle cx="356.69" cy="102.50" r="4.7" fill="#000"/>
<circle cx="375.85" cy="100.00" r="4.7" fill="#000"/>
<circle cx="395.01" cy="95.80" r="4.7" fill="#000"/>
<circle cx="414.17" cy="91.00" r="4.7" fill="#000"/>
<circle cx="433.33" cy="84.50" r="4.7" fill="#000"/>
<circle cx="452.49" cy="79.00" r="4.7" fill="#000"/>
<circle cx="471.65" cy="75.00" r="4.7" fill="#000"/>
<circle cx="490.81" cy="74.25" r="4.7" fill="#000"/>
<circle cx="509.97" cy="66.25" r="4.7" fill="#000"/>
<circle cx="529.13" cy="85.00" r="4.7" fill="#000"/>
<circle cx="548.29" cy="87.50" r="4.7" fill="#000"/>
<path d="M337.53 113.80L337.53 125.80M335.13 113.80L339.93 113.80M335.13 125.80L339.93 125.80" stroke="#111111" stroke-width="1.0" fill="none"/>
<path d="M356.69 108.50L356.69 128.50M354.29 108.50L359.09 108.50M354.29 128.50L359.09 128.50" stroke="#111111" stroke-width="1.0" fill="none"/>
<path d="M414.17 111.00L414.17 121.00M411.77 111.00L416.57 111.00M411.77 121.00L416.57 121.00" stroke="#111111" stroke-width="1.0" fill="none"/>
<path d="M471.65 87.25L471.65 130.25M469.25 87.25L474.05 87.25M469.25 130.25L474.05 130.25" stroke="#111111" stroke-width="1.0" fill="none"/>
<path d="M490.81 97.25L490.81 115.25M488.41 97.25L493.21 97.25M488.41 115.25L493.21 115.25" stroke="#111111" stroke-width="1.0" fill="none"/>
<path d="M509.97 78.50L509.97 107.50M507.57 78.50L512.37 78.50M507.57 107.50L512.37 107.50" stroke="#111111" stroke-width="1.0" fill="none"/>
<path d="M529.13 90.75L529.13 131.75M526.73 90.75L531.53 90.75M526.73 131.75L531.53 131.75" stroke="#111111" stroke-width="1.0" fill="none"/>
<path d="M548.29 105.75L548.29 117.75M545.89 105.75L550.69 105.75M545.89 117.75L550.69 117.75" stroke="#111111" stroke-width="1.0" fill="none"/>
<polyline points="184.25,232.50 203.41,215.50 222.57,197.50 241.73,166.40 260.89,143.00 280.05,134.60 299.21,127.60 318.37,123.00 337.53,119.80 356.69,118.50 375.85,116.80 395.01,116.25 414.17,116.00 433.33,113.20 452.49,116.25 471.65,108.75 490.81,106.25 509.97,93.00 529.13,111.25 548.29,111.75" fill="none" stroke="#000" stroke-width="1.5" stroke-linejoin="round"/>
<rect x="179.35" y="227.60" width="9.8" height="9.8" fill="#000"/>
<rect x="198.51" y="210.60" width="9.8" height="9.8" fill="#000"/>
<rect x="217.67" y="192.60" width="9.8" height="9.8" fill="#000"/>
<rect x="236.83" y="161.50" width="9.8" height="9.8" fill="#000"/>
<rect x="255.99" y="138.10" width="9.8" height="9.8" fill="#000"/>
<rect x="275.15" y="129.70" width="9.8" height="9.8" fill="#000"/>
<rect x="294.31" y="122.70" width="9.8" height="9.8" fill="#000"/>
<rect x="313.47" y="118.10" width="9.8" height="9.8" fill="#000"/>
<rect x="332.63" y="114.90" width="9.8" height="9.8" fill="#000"/>
<rect x="351.79" y="113.60" width="9.8" height="9.8" fill="#000"/>
<rect x="370.95" y="111.90" width="9.8" height="9.8" fill="#000"/>
<rect x="390.11" y="111.35" width="9.8" height="9.8" fill="#000"/>
<rect x="409.27" y="111.10" width="9.8" height="9.8" fill="#000"/>
<rect x="428.43" y="108.30" width="9.8" height="9.8" fill="#000"/>
<rect x="447.59" y="111.35" width="9.8" height="9.8" fill="#000"/>
<rect x="466.75" y="103.85" width="9.8" height="9.8" fill="#000"/>
<rect x="485.91" y="101.35" width="9.8" height="9.8" fill="#000"/>
<rect x="505.07" y="88.10" width="9.8" height="9.8" fill="#000"/>
<rect x="524.23" y="106.35" width="9.8" height="9.8" fill="#000"/>
<rect x="543.39" y="106.85" width="9.8" height="9.8" fill="#000"/>
<line x1="87.90" y1="316.70" x2="87.90" y2="505.40" stroke="#505050" stroke-width="1.15" />
<line x1="83.60" y1="504.90" x2="87.90" y2="504.90" stroke="#505050" stroke-width="1.15" />
<text x="0" y="0" font-size="12.600000000000001" text-anchor="end" font-weight="normal" fill="#141414" stroke="#141414" stroke-width="0.2" transform="translate(76.70 508.70) scale(0.952 1)" >0</text>
<line x1="83.60" y1="486.13" x2="87.90" y2="486.13" stroke="#505050" stroke-width="1.15" />
<text x="0" y="0" font-size="12.600000000000001" text-anchor="end" font-weight="normal" fill="#141414" stroke="#141414" stroke-width="0.2" transform="translate(76.70 489.93) scale(0.952 1)" >1000</text>
<line x1="83.60" y1="467.36" x2="87.90" y2="467.36" stroke="#505050" stroke-width="1.15" />
<text x="0" y="0" font-size="12.600000000000001" text-anchor="end" font-weight="normal" fill="#141414" stroke="#141414" stroke-width="0.2" transform="translate(76.70 471.16) scale(0.952 1)" >2000</text>
<line x1="83.60" y1="448.59" x2="87.90" y2="448.59" stroke="#505050" stroke-width="1.15" />
<text x="0" y="0" font-size="12.600000000000001" text-anchor="end" font-weight="normal" fill="#141414" stroke="#141414" stroke-width="0.2" transform="translate(76.70 452.39) scale(0.952 1)" >3000</text>
<line x1="83.60" y1="429.82" x2="87.90" y2="429.82" stroke="#505050" stroke-width="1.15" />
<text x="0" y="0" font-size="12.600000000000001" text-anchor="end" font-weight="normal" fill="#141414" stroke="#141414" stroke-width="0.2" transform="translate(76.70 433.62) scale(0.952 1)" >4000</text>
<line x1="83.60" y1="411.05" x2="87.90" y2="411.05" stroke="#505050" stroke-width="1.15" />
<text x="0" y="0" font-size="12.600000000000001" text-anchor="end" font-weight="normal" fill="#141414" stroke="#141414" stroke-width="0.2" transform="translate(76.70 414.85) scale(0.952 1)" >5000</text>
<line x1="83.60" y1="392.28" x2="87.90" y2="392.28" stroke="#505050" stroke-width="1.15" />
<text x="0" y="0" font-size="12.600000000000001" text-anchor="end" font-weight="normal" fill="#141414" stroke="#141414" stroke-width="0.2" transform="translate(76.70 396.08) scale(0.952 1)" >6000</text>
<line x1="83.60" y1="373.51" x2="87.90" y2="373.51" stroke="#505050" stroke-width="1.15" />
<text x="0" y="0" font-size="12.600000000000001" text-anchor="end" font-weight="normal" fill="#141414" stroke="#141414" stroke-width="0.2" transform="translate(76.70 377.31) scale(0.952 1)" >7000</text>
<line x1="83.60" y1="354.74" x2="87.90" y2="354.74" stroke="#505050" stroke-width="1.15" />
<text x="0" y="0" font-size="12.600000000000001" text-anchor="end" font-weight="normal" fill="#141414" stroke="#141414" stroke-width="0.2" transform="translate(76.70 358.54) scale(0.952 1)" >8000</text>
<line x1="83.60" y1="335.97" x2="87.90" y2="335.97" stroke="#505050" stroke-width="1.15" />
<text x="0" y="0" font-size="12.600000000000001" text-anchor="end" font-weight="normal" fill="#141414" stroke="#141414" stroke-width="0.2" transform="translate(76.70 339.77) scale(0.952 1)" >9000</text>
<line x1="83.60" y1="317.20" x2="87.90" y2="317.20" stroke="#505050" stroke-width="1.15" />
<text x="0" y="0" font-size="12.600000000000001" text-anchor="end" font-weight="normal" fill="#141414" stroke="#141414" stroke-width="0.2" transform="translate(76.70 321.00) scale(0.952 1)" >10000</text>
<line x1="171.70" y1="317.50" x2="171.70" y2="506.80" stroke="#505050" stroke-width="1.15" />
<line x1="167.40" y1="506.30" x2="171.70" y2="506.30" stroke="#505050" stroke-width="1.15" />
<text x="0" y="0" font-size="13.334999999999999" text-anchor="end" font-weight="normal" fill="#141414" stroke="#141414" stroke-width="0.2" transform="translate(160.50 509.60) scale(0.952 1)" >0</text>
<line x1="167.40" y1="479.40" x2="171.70" y2="479.40" stroke="#505050" stroke-width="1.15" />
<text x="0" y="0" font-size="13.334999999999999" text-anchor="end" font-weight="normal" fill="#141414" stroke="#141414" stroke-width="0.2" transform="translate(160.50 482.70) scale(0.952 1)" >10</text>
<line x1="167.40" y1="452.50" x2="171.70" y2="452.50" stroke="#505050" stroke-width="1.15" />
<text x="0" y="0" font-size="13.334999999999999" text-anchor="end" font-weight="normal" fill="#141414" stroke="#141414" stroke-width="0.2" transform="translate(160.50 455.80) scale(0.952 1)" >20</text>
<line x1="167.40" y1="425.60" x2="171.70" y2="425.60" stroke="#505050" stroke-width="1.15" />
<text x="0" y="0" font-size="13.334999999999999" text-anchor="end" font-weight="normal" fill="#141414" stroke="#141414" stroke-width="0.2" transform="translate(160.50 428.90) scale(0.952 1)" >30</text>
<line x1="167.40" y1="398.70" x2="171.70" y2="398.70" stroke="#505050" stroke-width="1.15" />
<text x="0" y="0" font-size="13.334999999999999" text-anchor="end" font-weight="normal" fill="#141414" stroke="#141414" stroke-width="0.2" transform="translate(160.50 402.00) scale(0.952 1)" >40</text>
<line x1="167.40" y1="371.80" x2="171.70" y2="371.80" stroke="#505050" stroke-width="1.15" />
<text x="0" y="0" font-size="13.334999999999999" text-anchor="end" font-weight="normal" fill="#141414" stroke="#141414" stroke-width="0.2" transform="translate(160.50 375.10) scale(0.952 1)" >50</text>
<line x1="167.40" y1="344.90" x2="171.70" y2="344.90" stroke="#505050" stroke-width="1.15" />
<text x="0" y="0" font-size="13.334999999999999" text-anchor="end" font-weight="normal" fill="#141414" stroke="#141414" stroke-width="0.2" transform="translate(160.50 348.20) scale(0.952 1)" >60</text>
<line x1="167.40" y1="318.00" x2="171.70" y2="318.00" stroke="#505050" stroke-width="1.15" />
<text x="0" y="0" font-size="13.334999999999999" text-anchor="end" font-weight="normal" fill="#141414" stroke="#141414" stroke-width="0.2" transform="translate(160.50 321.30) scale(0.952 1)" >70</text>
<line x1="553.00" y1="317.10" x2="553.00" y2="506.80" stroke="#505050" stroke-width="1.15" />
<line x1="549.50" y1="506.30" x2="556.50" y2="506.30" stroke="#505050" stroke-width="1.15" />
<text x="0" y="0" font-size="13.334999999999999" text-anchor="start" font-weight="normal" fill="#141414" stroke="#141414" stroke-width="0.2" transform="translate(563.00 510.10) scale(0.952 1)" >0</text>
<line x1="549.50" y1="479.34" x2="556.50" y2="479.34" stroke="#505050" stroke-width="1.15" />
<text x="0" y="0" font-size="13.334999999999999" text-anchor="start" font-weight="normal" fill="#141414" stroke="#141414" stroke-width="0.2" transform="translate(563.00 483.14) scale(0.952 1)" >1</text>
<line x1="549.50" y1="452.39" x2="556.50" y2="452.39" stroke="#505050" stroke-width="1.15" />
<text x="0" y="0" font-size="13.334999999999999" text-anchor="start" font-weight="normal" fill="#141414" stroke="#141414" stroke-width="0.2" transform="translate(563.00 456.19) scale(0.952 1)" >2</text>
<line x1="549.50" y1="425.43" x2="556.50" y2="425.43" stroke="#505050" stroke-width="1.15" />
<text x="0" y="0" font-size="13.334999999999999" text-anchor="start" font-weight="normal" fill="#141414" stroke="#141414" stroke-width="0.2" transform="translate(563.00 429.23) scale(0.952 1)" >3</text>
<line x1="549.50" y1="398.47" x2="556.50" y2="398.47" stroke="#505050" stroke-width="1.15" />
<text x="0" y="0" font-size="13.334999999999999" text-anchor="start" font-weight="normal" fill="#141414" stroke="#141414" stroke-width="0.2" transform="translate(563.00 402.27) scale(0.952 1)" >4</text>
<line x1="549.50" y1="371.51" x2="556.50" y2="371.51" stroke="#505050" stroke-width="1.15" />
<text x="0" y="0" font-size="13.334999999999999" text-anchor="start" font-weight="normal" fill="#141414" stroke="#141414" stroke-width="0.2" transform="translate(563.00 375.31) scale(0.952 1)" >5</text>
<line x1="549.50" y1="344.56" x2="556.50" y2="344.56" stroke="#505050" stroke-width="1.15" />
<text x="0" y="0" font-size="13.334999999999999" text-anchor="start" font-weight="normal" fill="#141414" stroke="#141414" stroke-width="0.2" transform="translate(563.00 348.36) scale(0.952 1)" >6</text>
<line x1="549.50" y1="317.60" x2="556.50" y2="317.60" stroke="#505050" stroke-width="1.15" />
<text x="0" y="0" font-size="13.334999999999999" text-anchor="start" font-weight="normal" fill="#141414" stroke="#141414" stroke-width="0.2" transform="translate(563.00 321.40) scale(0.952 1)" >7</text>
<line x1="639.60" y1="315.70" x2="639.60" y2="504.70" stroke="#505050" stroke-width="1.15" />
<line x1="636.10" y1="504.20" x2="643.10" y2="504.20" stroke="#505050" stroke-width="1.15" />
<text x="0" y="0" font-size="13.23" text-anchor="start" font-weight="normal" fill="#141414" stroke="#141414" stroke-width="0.2" transform="translate(650.30 508.00) scale(0.952 1)" >0</text>
<line x1="636.10" y1="483.31" x2="643.10" y2="483.31" stroke="#505050" stroke-width="1.15" />
<text x="0" y="0" font-size="13.23" text-anchor="start" font-weight="normal" fill="#141414" stroke="#141414" stroke-width="0.2" transform="translate(650.30 487.11) scale(0.952 1)" >100</text>
<line x1="636.10" y1="462.42" x2="643.10" y2="462.42" stroke="#505050" stroke-width="1.15" />
<text x="0" y="0" font-size="13.23" text-anchor="start" font-weight="normal" fill="#141414" stroke="#141414" stroke-width="0.2" transform="translate(650.30 466.22) scale(0.952 1)" >200</text>
<line x1="636.10" y1="441.53" x2="643.10" y2="441.53" stroke="#505050" stroke-width="1.15" />
<text x="0" y="0" font-size="13.23" text-anchor="start" font-weight="normal" fill="#141414" stroke="#141414" stroke-width="0.2" transform="translate(650.30 445.33) scale(0.952 1)" >300</text>
<line x1="636.10" y1="420.64" x2="643.10" y2="420.64" stroke="#505050" stroke-width="1.15" />
<text x="0" y="0" font-size="13.23" text-anchor="start" font-weight="normal" fill="#141414" stroke="#141414" stroke-width="0.2" transform="translate(650.30 424.44) scale(0.952 1)" >400</text>
<line x1="636.10" y1="399.76" x2="643.10" y2="399.76" stroke="#505050" stroke-width="1.15" />
<text x="0" y="0" font-size="13.23" text-anchor="start" font-weight="normal" fill="#141414" stroke="#141414" stroke-width="0.2" transform="translate(650.30 403.56) scale(0.952 1)" >500</text>
<line x1="636.10" y1="378.87" x2="643.10" y2="378.87" stroke="#505050" stroke-width="1.15" />
<text x="0" y="0" font-size="13.23" text-anchor="start" font-weight="normal" fill="#141414" stroke="#141414" stroke-width="0.2" transform="translate(650.30 382.67) scale(0.952 1)" >600</text>
<line x1="636.10" y1="357.98" x2="643.10" y2="357.98" stroke="#505050" stroke-width="1.15" />
<text x="0" y="0" font-size="13.23" text-anchor="start" font-weight="normal" fill="#141414" stroke="#141414" stroke-width="0.2" transform="translate(650.30 361.78) scale(0.952 1)" >700</text>
<line x1="636.10" y1="337.09" x2="643.10" y2="337.09" stroke="#505050" stroke-width="1.15" />
<text x="0" y="0" font-size="13.23" text-anchor="start" font-weight="normal" fill="#141414" stroke="#141414" stroke-width="0.2" transform="translate(650.30 340.89) scale(0.952 1)" >800</text>
<line x1="636.10" y1="316.20" x2="643.10" y2="316.20" stroke="#505050" stroke-width="1.15" />
<text x="0" y="0" font-size="13.23" text-anchor="start" font-weight="normal" fill="#141414" stroke="#141414" stroke-width="0.2" transform="translate(650.30 320.00) scale(0.952 1)" >900</text>
<text x="30.50" y="405.20" font-size="13.8" text-anchor="middle" font-weight="bold" fill="#111" stroke="#111" stroke-width="0.25" transform="rotate(-90 30.50 405.20)" >GA (mg/L)</text>
<text x="124.20" y="413.80" font-size="13.4" text-anchor="middle" font-weight="bold" fill="#111" stroke="#111" stroke-width="0.25" transform="rotate(-90 124.20 413.80)" >IAA (mg/L),&#160; C (g/L)</text>
<text x="599.30" y="409.80" font-size="13.3" text-anchor="middle" font-weight="bold" fill="#111" stroke="#111" stroke-width="0.25" transform="rotate(-90 599.30 409.80)" >Biomass (g/L),&#160; pH</text>
<text x="694.10" y="418.60" font-size="13.3" text-anchor="middle" font-weight="bold" fill="#111" stroke="#111" stroke-width="0.25" transform="rotate(-90 694.10 418.60)" >ABA (mg/L)</text>
<text x="10.20" y="331.50" font-size="25" text-anchor="start" font-weight="bold" fill="#111" stroke="#111" stroke-width="0.25" >B</text>
<path d="M200.30 453.00L200.30 463.00M197.90 453.00L202.70 453.00M197.90 463.00L202.70 463.00" stroke="#505050" stroke-width="0.9" fill="none"/>
<path d="M219.35 427.35L219.35 441.15M216.95 427.35L221.75 427.35M216.95 441.15L221.75 441.15" stroke="#505050" stroke-width="0.9" fill="none"/>
<path d="M390.80 377.75L390.80 389.75M388.40 377.75L393.20 377.75M388.40 389.75L393.20 389.75" stroke="#505050" stroke-width="0.9" fill="none"/>
<path d="M409.85 381.35L409.85 392.15M407.45 381.35L412.25 381.35M407.45 392.15L412.25 392.15" stroke="#505050" stroke-width="0.9" fill="none"/>
<polyline points="181.25,480.50 200.30,458.00 219.35,434.25 238.40,413.25 257.45,398.75 276.50,394.50 295.55,391.00 314.60,389.50 333.65,386.50 352.70,385.00 371.75,384.25 390.80,383.75 409.85,386.75 428.90,392.00 447.95,389.50 467.00,377.50 486.05,374.50 505.10,363.75 524.15,347.50 543.20,366.00" fill="none" stroke="#000" stroke-width="1.5" stroke-dasharray="4 2.4" stroke-linejoin="round"/>
<path d="M181.25 476.85 L184.90 484.15 L177.60 484.15Z" fill="#000"/>
<path d="M200.30 454.35 L203.95 461.65 L196.65 461.65Z" fill="#000"/>
<path d="M219.35 430.60 L223.00 437.90 L215.70 437.90Z" fill="#000"/>
<path d="M238.40 409.60 L242.05 416.90 L234.75 416.90Z" fill="#000"/>
<path d="M257.45 395.10 L261.10 402.40 L253.80 402.40Z" fill="#000"/>
<path d="M314.60 385.85 L318.25 393.15 L310.95 393.15Z" fill="#000"/>
<path d="M333.65 382.85 L337.30 390.15 L330.00 390.15Z" fill="#000"/>
<path d="M352.70 381.35 L356.35 388.65 L349.05 388.65Z" fill="#000"/>
<path d="M371.75 380.60 L375.40 387.90 L368.10 387.90Z" fill="#000"/>
<path d="M390.80 380.10 L394.45 387.40 L387.15 387.40Z" fill="#000"/>
<path d="M409.85 383.10 L413.50 390.40 L406.20 390.40Z" fill="#000"/>
<path d="M428.90 388.35 L432.55 395.65 L425.25 395.65Z" fill="#000"/>
<path d="M447.95 385.85 L451.60 393.15 L444.30 393.15Z" fill="#000"/>
<path d="M467.00 373.85 L470.65 381.15 L463.35 381.15Z" fill="#000"/>
<path d="M486.05 370.85 L489.70 378.15 L482.40 378.15Z" fill="#000"/>
<path d="M505.10 360.10 L508.75 367.40 L501.45 367.40Z" fill="#000"/>
<path d="M524.15 343.85 L527.80 351.15 L520.50 351.15Z" fill="#000"/>
<path d="M543.20 362.35 L546.85 369.65 L539.55 369.65Z" fill="#000"/>
<path d="M428.90 406.25L428.90 421.25M426.50 406.25L431.30 406.25M426.50 421.25L431.30 421.25" stroke="#505050" stroke-width="0.9" fill="none"/>
<path d="M447.95 409.65L447.95 420.85M445.55 409.65L450.35 409.65M445.55 420.85L450.35 420.85" stroke="#505050" stroke-width="0.9" fill="none"/>
<path d="M467.00 411.80L467.00 424.20M464.60 411.80L469.40 411.80M464.60 424.20L469.40 424.20" stroke="#505050" stroke-width="0.9" fill="none"/>
<path d="M486.05 426.75L486.05 436.75M483.65 426.75L488.45 426.75M483.65 436.75L488.45 436.75" stroke="#505050" stroke-width="0.9" fill="none"/>
<path d="M505.10 430.75L505.10 447.75M502.70 430.75L507.50 430.75M502.70 447.75L507.50 447.75" stroke="#505050" stroke-width="0.9" fill="none"/>
<path d="M177.75 367.00L184.75 374.00M177.75 374.00L184.75 367.00" stroke="#000" stroke-width="1.3" fill="none"/>
<path d="M196.80 370.75L203.80 377.75M196.80 377.75L203.80 370.75" stroke="#000" stroke-width="1.3" fill="none"/>
<path d="M215.85 372.00L222.85 379.00M215.85 379.00L222.85 372.00" stroke="#000" stroke-width="1.3" fill="none"/>
<path d="M234.90 380.25L241.90 387.25M234.90 387.25L241.90 380.25" stroke="#000" stroke-width="1.3" fill="none"/>
<path d="M253.95 385.25L260.95 392.25M253.95 392.25L260.95 385.25" stroke="#000" stroke-width="1.3" fill="none"/>
<path d="M273.00 391.00L280.00 398.00M273.00 398.00L280.00 391.00" stroke="#000" stroke-width="1.3" fill="none"/>
<path d="M292.05 390.25L299.05 397.25M292.05 397.25L299.05 390.25" stroke="#000" stroke-width="1.3" fill="none"/>
<path d="M311.10 394.75L318.10 401.75M311.10 401.75L318.10 394.75" stroke="#000" stroke-width="1.3" fill="none"/>
<path d="M330.15 395.25L337.15 402.25M330.15 402.25L337.15 395.25" stroke="#000" stroke-width="1.3" fill="none"/>
<path d="M349.20 398.25L356.20 405.25M349.20 405.25L356.20 398.25" stroke="#000" stroke-width="1.3" fill="none"/>
<path d="M368.25 398.25L375.25 405.25M368.25 405.25L375.25 398.25" stroke="#000" stroke-width="1.3" fill="none"/>
<path d="M387.30 398.75L394.30 405.75M387.30 405.75L394.30 398.75" stroke="#000" stroke-width="1.3" fill="none"/>
<path d="M406.35 400.25L413.35 407.25M406.35 407.25L413.35 400.25" stroke="#000" stroke-width="1.3" fill="none"/>
<path d="M425.40 410.25L432.40 417.25M425.40 417.25L432.40 410.25" stroke="#000" stroke-width="1.3" fill="none"/>
<path d="M444.45 411.75L451.45 418.75M444.45 418.75L451.45 411.75" stroke="#000" stroke-width="1.3" fill="none"/>
<path d="M463.50 414.50L470.50 421.50M463.50 421.50L470.50 414.50" stroke="#000" stroke-width="1.3" fill="none"/>
<path d="M482.55 428.25L489.55 435.25M482.55 435.25L489.55 428.25" stroke="#000" stroke-width="1.3" fill="none"/>
<path d="M501.60 435.75L508.60 442.75M501.60 442.75L508.60 435.75" stroke="#000" stroke-width="1.3" fill="none"/>
<path d="M520.65 437.75L527.65 444.75M520.65 444.75L527.65 437.75" stroke="#000" stroke-width="1.3" fill="none"/>
<path d="M539.70 438.50L546.70 445.50M539.70 445.50L546.70 438.50" stroke="#000" stroke-width="1.3" fill="none"/>
<path d="M200.30 400.25L200.30 417.25M197.90 400.25L202.70 400.25M197.90 417.25L202.70 417.25" stroke="#505050" stroke-width="0.9" fill="none"/>
<path d="M219.35 376.30L219.35 388.70M216.95 376.30L221.75 376.30M216.95 388.70L221.75 388.70" stroke="#505050" stroke-width="0.9" fill="none"/>
<path d="M238.40 357.15L238.40 370.35M236.00 357.15L240.80 357.15M236.00 370.35L240.80 370.35" stroke="#505050" stroke-width="0.9" fill="none"/>
<path d="M257.45 355.40L257.45 370.60M255.05 355.40L259.85 355.40M255.05 370.60L259.85 370.60" stroke="#505050" stroke-width="0.9" fill="none"/>
<path d="M295.55 349.50L295.55 364.50M293.15 349.50L297.95 349.50M293.15 364.50L297.95 364.50" stroke="#505050" stroke-width="0.9" fill="none"/>
<path d="M314.60 345.00L314.60 360.00M312.20 345.00L317.00 345.00M312.20 360.00L317.00 360.00" stroke="#505050" stroke-width="0.9" fill="none"/>
<path d="M371.75 332.60L371.75 351.40M369.35 332.60L374.15 332.60M369.35 351.40L374.15 351.40" stroke="#505050" stroke-width="0.9" fill="none"/>
<path d="M390.80 335.65L390.80 351.85M388.40 335.65L393.20 335.65M388.40 351.85L393.20 351.85" stroke="#505050" stroke-width="0.9" fill="none"/>
<path d="M447.95 345.00L447.95 360.00M445.55 345.00L450.35 345.00M445.55 360.00L450.35 360.00" stroke="#505050" stroke-width="0.9" fill="none"/>
<path d="M505.10 359.00L505.10 375.00M502.70 359.00L507.50 359.00M502.70 375.00L507.50 375.00" stroke="#505050" stroke-width="0.9" fill="none"/>
<path d="M543.20 351.40L543.20 372.60M540.80 351.40L545.60 351.40M540.80 372.60L545.60 372.60" stroke="#505050" stroke-width="0.9" fill="none"/>
<path d="M177.75 446.40L184.75 446.40M181.25 442.90L181.25 449.90" stroke="#000" stroke-width="1.3" fill="none"/>
<path d="M196.80 408.75L203.80 408.75M200.30 405.25L200.30 412.25" stroke="#000" stroke-width="1.3" fill="none"/>
<path d="M215.85 382.50L222.85 382.50M219.35 379.00L219.35 386.00" stroke="#000" stroke-width="1.3" fill="none"/>
<path d="M234.90 363.75L241.90 363.75M238.40 360.25L238.40 367.25" stroke="#000" stroke-width="1.3" fill="none"/>
<path d="M253.95 363.00L260.95 363.00M257.45 359.50L257.45 366.50" stroke="#000" stroke-width="1.3" fill="none"/>
<path d="M273.00 362.00L280.00 362.00M276.50 358.50L276.50 365.50" stroke="#000" stroke-width="1.3" fill="none"/>
<path d="M292.05 357.00L299.05 357.00M295.55 353.50L295.55 360.50" stroke="#000" stroke-width="1.3" fill="none"/>
<path d="M311.10 352.50L318.10 352.50M314.60 349.00L314.60 356.00" stroke="#000" stroke-width="1.3" fill="none"/>
<path d="M330.15 347.50L337.15 347.50M333.65 344.00L333.65 351.00" stroke="#000" stroke-width="1.3" fill="none"/>
<path d="M349.20 335.00L356.20 335.00M352.70 331.50L352.70 338.50" stroke="#000" stroke-width="1.3" fill="none"/>
<path d="M368.25 342.00L375.25 342.00M371.75 338.50L371.75 345.50" stroke="#000" stroke-width="1.3" fill="none"/>
<path d="M387.30 343.75L394.30 343.75M390.80 340.25L390.80 347.25" stroke="#000" stroke-width="1.3" fill="none"/>
<path d="M406.35 346.75L413.35 346.75M409.85 343.25L409.85 350.25" stroke="#000" stroke-width="1.3" fill="none"/>
<path d="M425.40 349.25L432.40 349.25M428.90 345.75L428.90 352.75" stroke="#000" stroke-width="1.3" fill="none"/>
<path d="M444.45 352.50L451.45 352.50M447.95 349.00L447.95 356.00" stroke="#000" stroke-width="1.3" fill="none"/>
<path d="M463.50 353.00L470.50 353.00M467.00 349.50L467.00 356.50" stroke="#000" stroke-width="1.3" fill="none"/>
<path d="M482.55 357.50L489.55 357.50M486.05 354.00L486.05 361.00" stroke="#000" stroke-width="1.3" fill="none"/>
<path d="M501.60 367.00L508.60 367.00M505.10 363.50L505.10 370.50" stroke="#000" stroke-width="1.3" fill="none"/>
<path d="M520.65 363.00L527.65 363.00M524.15 359.50L524.15 366.50" stroke="#000" stroke-width="1.3" fill="none"/>
<path d="M539.70 362.00L546.70 362.00M543.20 358.50L543.20 365.50" stroke="#000" stroke-width="1.3" fill="none"/>
<path d="M181.25 365.50L181.25 375.50M178.85 365.50L183.65 365.50M178.85 375.50L183.65 375.50" stroke="#505050" stroke-width="0.9" fill="none"/>
<path d="M238.40 342.35L238.40 349.15M236.00 342.35L240.80 342.35M236.00 349.15L240.80 349.15" stroke="#505050" stroke-width="0.9" fill="none"/>
<path d="M333.65 333.40L333.65 351.60M331.25 333.40L336.05 333.40M331.25 351.60L336.05 351.60" stroke="#505050" stroke-width="0.9" fill="none"/>
<path d="M371.75 331.85L371.75 350.65M369.35 331.85L374.15 331.85M369.35 350.65L374.15 350.65" stroke="#505050" stroke-width="0.9" fill="none"/>
<path d="M543.20 327.00L543.20 352.00M540.80 327.00L545.60 327.00M540.80 352.00L545.60 352.00" stroke="#505050" stroke-width="0.9" fill="none"/>
<path d="M181.25 367.00L184.75 370.50L181.25 374.00L177.75 370.50Z" stroke="#000" stroke-width="1.3" fill="#fff"/>
<path d="M200.30 342.25L203.80 345.75L200.30 349.25L196.80 345.75Z" stroke="#000" stroke-width="1.3" fill="#fff"/>
<path d="M219.35 342.25L222.85 345.75L219.35 349.25L215.85 345.75Z" stroke="#000" stroke-width="1.3" fill="#fff"/>
<path d="M238.40 342.25L241.90 345.75L238.40 349.25L234.90 345.75Z" stroke="#000" stroke-width="1.3" fill="#fff"/>
<path d="M257.45 339.00L260.95 342.50L257.45 346.00L253.95 342.50Z" stroke="#000" stroke-width="1.3" fill="#fff"/>
<path d="M276.50 336.50L280.00 340.00L276.50 343.50L273.00 340.00Z" stroke="#000" stroke-width="1.3" fill="#fff"/>
<path d="M295.55 337.25L299.05 340.75L295.55 344.25L292.05 340.75Z" stroke="#000" stroke-width="1.3" fill="#fff"/>
<path d="M314.60 337.75L318.10 341.25L314.60 344.75L311.10 341.25Z" stroke="#000" stroke-width="1.3" fill="#fff"/>
<path d="M333.65 339.00L337.15 342.50L333.65 346.00L330.15 342.50Z" stroke="#000" stroke-width="1.3" fill="#fff"/>
<path d="M352.70 336.50L356.20 340.00L352.70 343.50L349.20 340.00Z" stroke="#000" stroke-width="1.3" fill="#fff"/>
<path d="M371.75 337.75L375.25 341.25L371.75 344.75L368.25 341.25Z" stroke="#000" stroke-width="1.3" fill="#fff"/>
<path d="M390.80 333.50L394.30 337.00L390.80 340.50L387.30 337.00Z" stroke="#000" stroke-width="1.3" fill="#fff"/>
<path d="M409.85 336.00L413.35 339.50L409.85 343.00L406.35 339.50Z" stroke="#000" stroke-width="1.3" fill="#fff"/>
<path d="M428.90 337.25L432.40 340.75L428.90 344.25L425.40 340.75Z" stroke="#000" stroke-width="1.3" fill="#fff"/>
<path d="M447.95 336.00L451.45 339.50L447.95 343.00L444.45 339.50Z" stroke="#000" stroke-width="1.3" fill="#fff"/>
<path d="M467.00 331.50L470.50 335.00L467.00 338.50L463.50 335.00Z" stroke="#000" stroke-width="1.3" fill="#fff"/>
<path d="M486.05 337.75L489.55 341.25L486.05 344.75L482.55 341.25Z" stroke="#000" stroke-width="1.3" fill="#fff"/>
<path d="M505.10 337.25L508.60 340.75L505.10 344.25L501.60 340.75Z" stroke="#000" stroke-width="1.3" fill="#fff"/>
<path d="M524.15 337.25L527.65 340.75L524.15 344.25L520.65 340.75Z" stroke="#000" stroke-width="1.3" fill="#fff"/>
<path d="M543.20 336.00L546.70 339.50L543.20 343.00L539.70 339.50Z" stroke="#000" stroke-width="1.3" fill="#fff"/>
<path d="M332.62 371.00L332.62 383.00M330.22 371.00L335.02 371.00M330.22 383.00L335.02 383.00" stroke="#505050" stroke-width="0.9" fill="none"/>
<path d="M351.76 366.25L351.76 380.25M349.36 366.25L354.16 366.25M349.36 380.25L354.16 380.25" stroke="#505050" stroke-width="0.9" fill="none"/>
<path d="M466.60 350.00L466.60 360.00M464.20 350.00L469.00 350.00M464.20 360.00L469.00 360.00" stroke="#505050" stroke-width="0.9" fill="none"/>
<path d="M485.74 343.75L485.74 353.75M483.34 343.75L488.14 343.75M483.34 353.75L488.14 353.75" stroke="#505050" stroke-width="0.9" fill="none"/>
<path d="M504.88 336.25L504.88 346.25M502.48 336.25L507.28 336.25M502.48 346.25L507.28 346.25" stroke="#505050" stroke-width="0.9" fill="none"/>
<path d="M524.02 338.75L524.02 348.75M521.62 338.75L526.42 338.75M521.62 348.75L526.42 348.75" stroke="#505050" stroke-width="0.9" fill="none"/>
<polyline points="179.50,500.00 198.64,488.75 217.78,470.00 236.92,455.00 256.06,440.50 275.20,418.00 294.34,400.50 313.48,386.25 332.62,377.00 351.76,373.25 370.90,370.75 390.04,366.75 409.18,365.50 428.32,365.00 447.46,363.75 466.60,355.00 485.74,348.75 504.88,341.25 524.02,343.75 543.16,348.25" fill="none" stroke="#000" stroke-width="1.5" stroke-linejoin="round"/>
<circle cx="179.50" cy="500.00" r="3.5" fill="#000"/>
<circle cx="198.64" cy="488.75" r="3.5" fill="#000"/>
<circle cx="217.78" cy="470.00" r="3.5" fill="#000"/>
<circle cx="236.92" cy="455.00" r="3.5" fill="#000"/>
<circle cx="256.06" cy="440.50" r="3.5" fill="#000"/>
<circle cx="275.20" cy="418.00" r="3.5" fill="#000"/>
<circle cx="294.34" cy="400.50" r="3.5" fill="#000"/>
<circle cx="313.48" cy="386.25" r="3.5" fill="#000"/>
<circle cx="332.62" cy="377.00" r="3.5" fill="#000"/>
<circle cx="351.76" cy="373.25" r="3.5" fill="#000"/>
<circle cx="370.90" cy="370.75" r="3.5" fill="#000"/>
<circle cx="390.04" cy="366.75" r="3.5" fill="#000"/>
<circle cx="409.18" cy="365.50" r="3.5" fill="#000"/>
<circle cx="428.32" cy="365.00" r="3.5" fill="#000"/>
<circle cx="447.46" cy="363.75" r="3.5" fill="#000"/>
<circle cx="466.60" cy="355.00" r="3.5" fill="#000"/>
<circle cx="485.74" cy="348.75" r="3.5" fill="#000"/>
<circle cx="504.88" cy="341.25" r="3.5" fill="#000"/>
<circle cx="524.02" cy="343.75" r="3.5" fill="#000"/>
<circle cx="543.16" cy="348.25" r="3.5" fill="#000"/>
<path d="M313.48 411.80L313.48 427.20M311.08 411.80L315.88 411.80M311.08 427.20L315.88 427.20" stroke="#505050" stroke-width="0.9" fill="none"/>
<path d="M370.90 419.90L370.90 433.10M368.50 419.90L373.30 419.90M368.50 433.10L373.30 433.10" stroke="#505050" stroke-width="0.9" fill="none"/>
<path d="M390.04 417.05L390.04 430.45M387.64 417.05L392.44 417.05M387.64 430.45L392.44 430.45" stroke="#505050" stroke-width="0.9" fill="none"/>
<path d="M447.46 382.35L447.46 396.15M445.06 382.35L449.86 382.35M445.06 396.15L449.86 396.15" stroke="#505050" stroke-width="0.9" fill="none"/>
<path d="M466.60 365.00L466.60 388.00M464.20 365.00L469.00 365.00M464.20 388.00L469.00 388.00" stroke="#505050" stroke-width="0.9" fill="none"/>
<path d="M485.74 370.00L485.74 384.00M483.34 370.00L488.14 370.00M483.34 384.00L488.14 384.00" stroke="#505050" stroke-width="0.9" fill="none"/>
<path d="M504.88 352.75L504.88 370.75M502.48 352.75L507.28 352.75M502.48 370.75L507.28 370.75" stroke="#505050" stroke-width="0.9" fill="none"/>
<path d="M543.16 362.75L543.16 374.75M540.76 362.75L545.56 362.75M540.76 374.75L545.56 374.75" stroke="#505050" stroke-width="0.9" fill="none"/>
<polyline points="179.50,495.50 198.64,478.00 217.78,453.75 236.92,433.25 256.06,428.20 275.20,427.50 294.34,429.00 313.48,419.50 332.62,418.25 351.76,425.25 370.90,426.50 390.04,423.75 409.18,412.50 428.32,410.75 447.46,389.25 466.60,382.50 485.74,377.00 504.88,361.75 524.02,342.50 543.16,368.75" fill="none" stroke="#000" stroke-width="1.5" stroke-linejoin="round"/>
<rect x="176.05" y="492.05" width="6.9" height="6.9" fill="#000"/>
<rect x="195.19" y="474.55" width="6.9" height="6.9" fill="#000"/>
<rect x="214.33" y="450.30" width="6.9" height="6.9" fill="#000"/>
<rect x="233.47" y="429.80" width="6.9" height="6.9" fill="#000"/>
<rect x="252.61" y="424.75" width="6.9" height="6.9" fill="#000"/>
<rect x="271.75" y="424.05" width="6.9" height="6.9" fill="#000"/>
<rect x="290.89" y="425.55" width="6.9" height="6.9" fill="#000"/>
<rect x="310.03" y="416.05" width="6.9" height="6.9" fill="#000"/>
<rect x="329.17" y="414.80" width="6.9" height="6.9" fill="#000"/>
<rect x="348.31" y="421.80" width="6.9" height="6.9" fill="#000"/>
<rect x="367.45" y="423.05" width="6.9" height="6.9" fill="#000"/>
<rect x="386.59" y="420.30" width="6.9" height="6.9" fill="#000"/>
<rect x="405.73" y="409.05" width="6.9" height="6.9" fill="#000"/>
<rect x="424.87" y="407.30" width="6.9" height="6.9" fill="#000"/>
<rect x="444.01" y="385.80" width="6.9" height="6.9" fill="#000"/>
<rect x="463.15" y="379.05" width="6.9" height="6.9" fill="#000"/>
<rect x="482.29" y="373.55" width="6.9" height="6.9" fill="#000"/>
<rect x="501.43" y="358.30" width="6.9" height="6.9" fill="#000"/>
<rect x="520.57" y="339.05" width="6.9" height="6.9" fill="#000"/>
<rect x="539.71" y="365.30" width="6.9" height="6.9" fill="#000"/>
<line x1="83.00" y1="574.10" x2="83.00" y2="764.70" stroke="#505050" stroke-width="1.15" />
<line x1="78.70" y1="764.20" x2="83.00" y2="764.20" stroke="#505050" stroke-width="1.15" />
<text x="0" y="0" font-size="12.81" text-anchor="end" font-weight="normal" fill="#141414" stroke="#141414" stroke-width="0.2" transform="translate(71.80 768.00) scale(0.952 1)" >0</text>
<line x1="78.70" y1="732.60" x2="83.00" y2="732.60" stroke="#505050" stroke-width="1.15" />
<text x="0" y="0" font-size="12.81" text-anchor="end" font-weight="normal" fill="#141414" stroke="#141414" stroke-width="0.2" transform="translate(71.80 736.40) scale(0.952 1)" >2000</text>
<line x1="78.70" y1="701.00" x2="83.00" y2="701.00" stroke="#505050" stroke-width="1.15" />
<text x="0" y="0" font-size="12.81" text-anchor="end" font-weight="normal" fill="#141414" stroke="#141414" stroke-width="0.2" transform="translate(71.80 704.80) scale(0.952 1)" >4000</text>
<line x1="78.70" y1="669.40" x2="83.00" y2="669.40" stroke="#505050" stroke-width="1.15" />
<text x="0" y="0" font-size="12.81" text-anchor="end" font-weight="normal" fill="#141414" stroke="#141414" stroke-width="0.2" transform="translate(71.80 673.20) scale(0.952 1)" >6000</text>
<line x1="78.70" y1="637.80" x2="83.00" y2="637.80" stroke="#505050" stroke-width="1.15" />
<text x="0" y="0" font-size="12.81" text-anchor="end" font-weight="normal" fill="#141414" stroke="#141414" stroke-width="0.2" transform="translate(71.80 641.60) scale(0.952 1)" >8000</text>
<line x1="78.70" y1="606.20" x2="83.00" y2="606.20" stroke="#505050" stroke-width="1.15" />
<text x="0" y="0" font-size="12.81" text-anchor="end" font-weight="normal" fill="#141414" stroke="#141414" stroke-width="0.2" transform="translate(71.80 610.00) scale(0.952 1)" >10000</text>
<line x1="78.70" y1="574.60" x2="83.00" y2="574.60" stroke="#505050" stroke-width="1.15" />
<text x="0" y="0" font-size="12.81" text-anchor="end" font-weight="normal" fill="#141414" stroke="#141414" stroke-width="0.2" transform="translate(71.80 578.40) scale(0.952 1)" >12000</text>
<line x1="172.70" y1="573.80" x2="172.70" y2="763.60" stroke="#505050" stroke-width="1.15" />
<line x1="168.40" y1="763.10" x2="172.70" y2="763.10" stroke="#505050" stroke-width="1.15" />
<text x="0" y="0" font-size="13.334999999999999" text-anchor="end" font-weight="normal" fill="#141414" stroke="#141414" stroke-width="0.2" transform="translate(161.50 766.40) scale(0.952 1)" >0</text>
<line x1="168.40" y1="736.13" x2="172.70" y2="736.13" stroke="#505050" stroke-width="1.15" />
<text x="0" y="0" font-size="13.334999999999999" text-anchor="end" font-weight="normal" fill="#141414" stroke="#141414" stroke-width="0.2" transform="translate(161.50 739.43) scale(0.952 1)" >10</text>
<line x1="168.40" y1="709.16" x2="172.70" y2="709.16" stroke="#505050" stroke-width="1.15" />
<text x="0" y="0" font-size="13.334999999999999" text-anchor="end" font-weight="normal" fill="#141414" stroke="#141414" stroke-width="0.2" transform="translate(161.50 712.46) scale(0.952 1)" >20</text>
<line x1="168.40" y1="682.19" x2="172.70" y2="682.19" stroke="#505050" stroke-width="1.15" />
<text x="0" y="0" font-size="13.334999999999999" text-anchor="end" font-weight="normal" fill="#141414" stroke="#141414" stroke-width="0.2" transform="translate(161.50 685.49) scale(0.952 1)" >30</text>
<line x1="168.40" y1="655.21" x2="172.70" y2="655.21" stroke="#505050" stroke-width="1.15" />
<text x="0" y="0" font-size="13.334999999999999" text-anchor="end" font-weight="normal" fill="#141414" stroke="#141414" stroke-width="0.2" transform="translate(161.50 658.51) scale(0.952 1)" >40</text>
<line x1="168.40" y1="628.24" x2="172.70" y2="628.24" stroke="#505050" stroke-width="1.15" />
<text x="0" y="0" font-size="13.334999999999999" text-anchor="end" font-weight="normal" fill="#141414" stroke="#141414" stroke-width="0.2" transform="translate(161.50 631.54) scale(0.952 1)" >50</text>
<line x1="168.40" y1="601.27" x2="172.70" y2="601.27" stroke="#505050" stroke-width="1.15" />
<text x="0" y="0" font-size="13.334999999999999" text-anchor="end" font-weight="normal" fill="#141414" stroke="#141414" stroke-width="0.2" transform="translate(161.50 604.57) scale(0.952 1)" >60</text>
<line x1="168.40" y1="574.30" x2="172.70" y2="574.30" stroke="#505050" stroke-width="1.15" />
<text x="0" y="0" font-size="13.334999999999999" text-anchor="end" font-weight="normal" fill="#141414" stroke="#141414" stroke-width="0.2" transform="translate(161.50 577.60) scale(0.952 1)" >70</text>
<line x1="553.50" y1="573.70" x2="553.50" y2="763.50" stroke="#505050" stroke-width="1.15" />
<line x1="550.00" y1="763.00" x2="557.00" y2="763.00" stroke="#505050" stroke-width="1.15" />
<text x="0" y="0" font-size="13.334999999999999" text-anchor="start" font-weight="normal" fill="#141414" stroke="#141414" stroke-width="0.2" transform="translate(563.50 766.80) scale(0.952 1)" >0</text>
<line x1="550.00" y1="736.03" x2="557.00" y2="736.03" stroke="#505050" stroke-width="1.15" />
<text x="0" y="0" font-size="13.334999999999999" text-anchor="start" font-weight="normal" fill="#141414" stroke="#141414" stroke-width="0.2" transform="translate(563.50 739.83) scale(0.952 1)" >1</text>
<line x1="550.00" y1="709.06" x2="557.00" y2="709.06" stroke="#505050" stroke-width="1.15" />
<text x="0" y="0" font-size="13.334999999999999" text-anchor="start" font-weight="normal" fill="#141414" stroke="#141414" stroke-width="0.2" transform="translate(563.50 712.86) scale(0.952 1)" >2</text>
<line x1="550.00" y1="682.09" x2="557.00" y2="682.09" stroke="#505050" stroke-width="1.15" />
<text x="0" y="0" font-size="13.334999999999999" text-anchor="start" font-weight="normal" fill="#141414" stroke="#141414" stroke-width="0.2" transform="translate(563.50 685.89) scale(0.952 1)" >3</text>
<line x1="550.00" y1="655.11" x2="557.00" y2="655.11" stroke="#505050" stroke-width="1.15" />
<text x="0" y="0" font-size="13.334999999999999" text-anchor="start" font-weight="normal" fill="#141414" stroke="#141414" stroke-width="0.2" transform="translate(563.50 658.91) scale(0.952 1)" >4</text>
<line x1="550.00" y1="628.14" x2="557.00" y2="628.14" stroke="#505050" stroke-width="1.15" />
<text x="0" y="0" font-size="13.334999999999999" text-anchor="start" font-weight="normal" fill="#141414" stroke="#141414" stroke-width="0.2" transform="translate(563.50 631.94) scale(0.952 1)" >5</text>
<line x1="550.00" y1="601.17" x2="557.00" y2="601.17" stroke="#505050" stroke-width="1.15" />
<text x="0" y="0" font-size="13.334999999999999" text-anchor="start" font-weight="normal" fill="#141414" stroke="#141414" stroke-width="0.2" transform="translate(563.50 604.97) scale(0.952 1)" >6</text>
<line x1="550.00" y1="574.20" x2="557.00" y2="574.20" stroke="#505050" stroke-width="1.15" />
<text x="0" y="0" font-size="13.334999999999999" text-anchor="start" font-weight="normal" fill="#141414" stroke="#141414" stroke-width="0.2" transform="translate(563.50 578.00) scale(0.952 1)" >7</text>
<line x1="637.20" y1="573.80" x2="637.20" y2="764.90" stroke="#505050" stroke-width="1.15" />
<line x1="633.70" y1="764.40" x2="640.70" y2="764.40" stroke="#505050" stroke-width="1.15" />
<text x="0" y="0" font-size="13.334999999999999" text-anchor="start" font-weight="normal" fill="#141414" stroke="#141414" stroke-width="0.2" transform="translate(647.90 768.20) scale(0.952 1)" >0</text>
<line x1="633.70" y1="745.39" x2="640.70" y2="745.39" stroke="#505050" stroke-width="1.15" />
<text x="0" y="0" font-size="13.334999999999999" text-anchor="start" font-weight="normal" fill="#141414" stroke="#141414" stroke-width="0.2" transform="translate(647.90 749.19) scale(0.952 1)" >100</text>
<line x1="633.70" y1="726.38" x2="640.70" y2="726.38" stroke="#505050" stroke-width="1.15" />
<text x="0" y="0" font-size="13.334999999999999" text-anchor="start" font-weight="normal" fill="#141414" stroke="#141414" stroke-width="0.2" transform="translate(647.90 730.18) scale(0.952 1)" >200</text>
<line x1="633.70" y1="707.37" x2="640.70" y2="707.37" stroke="#505050" stroke-width="1.15" />
<text x="0" y="0" font-size="13.334999999999999" text-anchor="start" font-weight="normal" fill="#141414" stroke="#141414" stroke-width="0.2" transform="translate(647.90 711.17) scale(0.952 1)" >300</text>
<line x1="633.70" y1="688.36" x2="640.70" y2="688.36" stroke="#505050" stroke-width="1.15" />
<text x="0" y="0" font-size="13.334999999999999" text-anchor="start" font-weight="normal" fill="#141414" stroke="#141414" stroke-width="0.2" transform="translate(647.90 692.16) scale(0.952 1)" >400</text>
<line x1="633.70" y1="669.35" x2="640.70" y2="669.35" stroke="#505050" stroke-width="1.15" />
<text x="0" y="0" font-size="13.334999999999999" text-anchor="start" font-weight="normal" fill="#141414" stroke="#141414" stroke-width="0.2" transform="translate(647.90 673.15) scale(0.952 1)" >500</text>
<line x1="633.70" y1="650.34" x2="640.70" y2="650.34" stroke="#505050" stroke-width="1.15" />
<text x="0" y="0" font-size="13.334999999999999" text-anchor="start" font-weight="normal" fill="#141414" stroke="#141414" stroke-width="0.2" transform="translate(647.90 654.14) scale(0.952 1)" >600</text>
<line x1="633.70" y1="631.33" x2="640.70" y2="631.33" stroke="#505050" stroke-width="1.15" />
<text x="0" y="0" font-size="13.334999999999999" text-anchor="start" font-weight="normal" fill="#141414" stroke="#141414" stroke-width="0.2" transform="translate(647.90 635.13) scale(0.952 1)" >700</text>
<line x1="633.70" y1="612.32" x2="640.70" y2="612.32" stroke="#505050" stroke-width="1.15" />
<text x="0" y="0" font-size="13.334999999999999" text-anchor="start" font-weight="normal" fill="#141414" stroke="#141414" stroke-width="0.2" transform="translate(647.90 616.12) scale(0.952 1)" >800</text>
<line x1="633.70" y1="593.31" x2="640.70" y2="593.31" stroke="#505050" stroke-width="1.15" />
<text x="0" y="0" font-size="13.334999999999999" text-anchor="start" font-weight="normal" fill="#141414" stroke="#141414" stroke-width="0.2" transform="translate(647.90 597.11) scale(0.952 1)" >900</text>
<line x1="633.70" y1="574.30" x2="640.70" y2="574.30" stroke="#505050" stroke-width="1.15" />
<text x="0" y="0" font-size="13.334999999999999" text-anchor="start" font-weight="normal" fill="#141414" stroke="#141414" stroke-width="0.2" transform="translate(647.90 578.10) scale(0.952 1)" >1000</text>
<text x="29.80" y="666.60" font-size="13.6" text-anchor="middle" font-weight="bold" fill="#111" stroke="#111" stroke-width="0.25" transform="rotate(-90 29.80 666.60)" >GA (mg/L)</text>
<text x="129.80" y="670.50" font-size="13.45" text-anchor="middle" font-weight="bold" fill="#111" stroke="#111" stroke-width="0.25" transform="rotate(-90 129.80 670.50)" >IAA (mg/L),&#160; C (g/L)</text>
<text x="597.00" y="665.70" font-size="13.3" text-anchor="middle" font-weight="bold" fill="#111" stroke="#111" stroke-width="0.25" transform="rotate(-90 597.00 665.70)" >Biomass (g/L),&#160; pH</text>
<text x="694.70" y="667.70" font-size="13.3" text-anchor="middle" font-weight="bold" fill="#111" stroke="#111" stroke-width="0.25" transform="rotate(-90 694.70 667.70)" >ABA (mg/L)</text>
<text x="8.50" y="589.00" font-size="25" text-anchor="start" font-weight="bold" fill="#111" stroke="#111" stroke-width="0.25" >C</text>
<line x1="169.90" y1="763.30" x2="553.50" y2="763.30" stroke="#505050" stroke-width="1.15" />
<line x1="172.90" y1="763.30" x2="172.90" y2="767.80" stroke="#505050" stroke-width="1.15" />
<line x1="191.94" y1="763.30" x2="191.94" y2="767.80" stroke="#505050" stroke-width="1.15" />
<line x1="210.98" y1="763.30" x2="210.98" y2="767.80" stroke="#505050" stroke-width="1.15" />
<line x1="230.02" y1="763.30" x2="230.02" y2="767.80" stroke="#505050" stroke-width="1.15" />
<line x1="249.06" y1="763.30" x2="249.06" y2="767.80" stroke="#505050" stroke-width="1.15" />
<line x1="268.10" y1="763.30" x2="268.10" y2="767.80" stroke="#505050" stroke-width="1.15" />
<line x1="287.14" y1="763.30" x2="287.14" y2="767.80" stroke="#505050" stroke-width="1.15" />
<line x1="306.18" y1="763.30" x2="306.18" y2="767.80" stroke="#505050" stroke-width="1.15" />
<line x1="325.22" y1="763.30" x2="325.22" y2="767.80" stroke="#505050" stroke-width="1.15" />
<line x1="344.26" y1="763.30" x2="344.26" y2="767.80" stroke="#505050" stroke-width="1.15" />
<line x1="363.30" y1="763.30" x2="363.30" y2="767.80" stroke="#505050" stroke-width="1.15" />
<line x1="382.34" y1="763.30" x2="382.34" y2="767.80" stroke="#505050" stroke-width="1.15" />
<line x1="401.38" y1="763.30" x2="401.38" y2="767.80" stroke="#505050" stroke-width="1.15" />
<line x1="420.42" y1="763.30" x2="420.42" y2="767.80" stroke="#505050" stroke-width="1.15" />
<line x1="439.46" y1="763.30" x2="439.46" y2="767.80" stroke="#505050" stroke-width="1.15" />
<line x1="458.50" y1="763.30" x2="458.50" y2="767.80" stroke="#505050" stroke-width="1.15" />
<line x1="477.54" y1="763.30" x2="477.54" y2="767.80" stroke="#505050" stroke-width="1.15" />
<line x1="496.58" y1="763.30" x2="496.58" y2="767.80" stroke="#505050" stroke-width="1.15" />
<line x1="515.62" y1="763.30" x2="515.62" y2="767.80" stroke="#505050" stroke-width="1.15" />
<line x1="534.66" y1="763.30" x2="534.66" y2="767.80" stroke="#505050" stroke-width="1.15" />
<line x1="553.70" y1="763.30" x2="553.70" y2="767.80" stroke="#505050" stroke-width="1.15" />
<text x="0" y="0" font-size="13.2" text-anchor="middle" font-weight="normal" fill="#141414" stroke="#141414" stroke-width="0.2" transform="translate(182.42 781.90) scale(0.955 1)" >1</text>
<text x="0" y="0" font-size="13.2" text-anchor="middle" font-weight="normal" fill="#141414" stroke="#141414" stroke-width="0.2" transform="translate(201.46 781.90) scale(0.955 1)" >2</text>
<text x="0" y="0" font-size="13.2" text-anchor="middle" font-weight="normal" fill="#141414" stroke="#141414" stroke-width="0.2" transform="translate(220.50 781.90) scale(0.955 1)" >3</text>
<text x="0" y="0" font-size="13.2" text-anchor="middle" font-weight="normal" fill="#141414" stroke="#141414" stroke-width="0.2" transform="translate(239.54 781.90) scale(0.955 1)" >4</text>
<text x="0" y="0" font-size="13.2" text-anchor="middle" font-weight="normal" fill="#141414" stroke="#141414" stroke-width="0.2" transform="translate(258.58 781.90) scale(0.955 1)" >5</text>
<text x="0" y="0" font-size="13.2" text-anchor="middle" font-weight="normal" fill="#141414" stroke="#141414" stroke-width="0.2" transform="translate(277.62 781.90) scale(0.955 1)" >6</text>
<text x="0" y="0" font-size="13.2" text-anchor="middle" font-weight="normal" fill="#141414" stroke="#141414" stroke-width="0.2" transform="translate(296.66 781.90) scale(0.955 1)" >7</text>
<text x="0" y="0" font-size="13.2" text-anchor="middle" font-weight="normal" fill="#141414" stroke="#141414" stroke-width="0.2" transform="translate(315.70 781.90) scale(0.955 1)" >8</text>
<text x="0" y="0" font-size="13.2" text-anchor="middle" font-weight="normal" fill="#141414" stroke="#141414" stroke-width="0.2" transform="translate(334.74 781.90) scale(0.955 1)" >9</text>
<text x="0" y="0" font-size="13.2" text-anchor="middle" font-weight="normal" fill="#141414" stroke="#141414" stroke-width="0.2" transform="translate(353.78 781.90) scale(0.955 1)" >10</text>
<text x="0" y="0" font-size="13.2" text-anchor="middle" font-weight="normal" fill="#141414" stroke="#141414" stroke-width="0.2" transform="translate(372.82 781.90) scale(0.955 1)" >11</text>
<text x="0" y="0" font-size="13.2" text-anchor="middle" font-weight="normal" fill="#141414" stroke="#141414" stroke-width="0.2" transform="translate(391.86 781.90) scale(0.955 1)" >12</text>
<text x="0" y="0" font-size="13.2" text-anchor="middle" font-weight="normal" fill="#141414" stroke="#141414" stroke-width="0.2" transform="translate(410.90 781.90) scale(0.955 1)" >13</text>
<text x="0" y="0" font-size="13.2" text-anchor="middle" font-weight="normal" fill="#141414" stroke="#141414" stroke-width="0.2" transform="translate(429.94 781.90) scale(0.955 1)" >14</text>
<text x="0" y="0" font-size="13.2" text-anchor="middle" font-weight="normal" fill="#141414" stroke="#141414" stroke-width="0.2" transform="translate(448.98 781.90) scale(0.955 1)" >15</text>
<text x="0" y="0" font-size="13.2" text-anchor="middle" font-weight="normal" fill="#141414" stroke="#141414" stroke-width="0.2" transform="translate(468.02 781.90) scale(0.955 1)" >16</text>
<text x="0" y="0" font-size="13.2" text-anchor="middle" font-weight="normal" fill="#141414" stroke="#141414" stroke-width="0.2" transform="translate(487.06 781.90) scale(0.955 1)" >17</text>
<text x="0" y="0" font-size="13.2" text-anchor="middle" font-weight="normal" fill="#141414" stroke="#141414" stroke-width="0.2" transform="translate(506.10 781.90) scale(0.955 1)" >18</text>
<text x="0" y="0" font-size="13.2" text-anchor="middle" font-weight="normal" fill="#141414" stroke="#141414" stroke-width="0.2" transform="translate(525.14 781.90) scale(0.955 1)" >19</text>
<text x="0" y="0" font-size="13.2" text-anchor="middle" font-weight="normal" fill="#141414" stroke="#141414" stroke-width="0.2" transform="translate(544.18 781.90) scale(0.955 1)" >20</text>
<path d="M220.56 694.00L220.56 702.00M218.16 694.00L222.96 694.00M218.16 702.00L222.96 702.00" stroke="#5a5a5a" stroke-width="0.85" fill="none"/>
<path d="M239.59 676.50L239.59 684.50M237.19 676.50L241.99 676.50M237.19 684.50L241.99 684.50" stroke="#5a5a5a" stroke-width="0.85" fill="none"/>
<path d="M372.80 644.25L372.80 654.25M370.40 644.25L375.20 644.25M370.40 654.25L375.20 654.25" stroke="#5a5a5a" stroke-width="0.85" fill="none"/>
<path d="M391.83 638.00L391.83 648.00M389.43 638.00L394.23 638.00M389.43 648.00L394.23 648.00" stroke="#5a5a5a" stroke-width="0.85" fill="none"/>
<path d="M410.86 624.85L410.86 638.65M408.46 624.85L413.26 624.85M408.46 638.65L413.26 638.65" stroke="#5a5a5a" stroke-width="0.85" fill="none"/>
<path d="M429.89 605.50L429.89 620.50M427.49 605.50L432.29 605.50M427.49 620.50L432.29 620.50" stroke="#5a5a5a" stroke-width="0.85" fill="none"/>
<polyline points="182.50,742.25 201.53,723.50 220.56,698.00 239.59,680.50 258.62,673.50 277.65,671.00 296.68,669.25 315.71,666.00 334.74,663.00 353.77,663.00 372.80,649.25 391.83,643.00 410.86,631.75 429.89,613.00 448.92,600.50 467.95,622.50 486.98,632.50 506.01,641.25 525.04,650.00 544.07,666.25" fill="none" stroke="#000" stroke-width="1.5" stroke-dasharray="4 2.4" stroke-linejoin="round"/>
<path d="M182.50 738.75 L186.00 745.75 L179.00 745.75Z" fill="#000"/>
<path d="M220.56 694.50 L224.06 701.50 L217.06 701.50Z" fill="#000"/>
<path d="M239.59 677.00 L243.09 684.00 L236.09 684.00Z" fill="#000"/>
<path d="M258.62 670.00 L262.12 677.00 L255.12 677.00Z" fill="#000"/>
<path d="M296.68 665.75 L300.18 672.75 L293.18 672.75Z" fill="#000"/>
<path d="M315.71 662.50 L319.21 669.50 L312.21 669.50Z" fill="#000"/>
<path d="M334.74 659.50 L338.24 666.50 L331.24 666.50Z" fill="#000"/>
<path d="M353.77 659.50 L357.27 666.50 L350.27 666.50Z" fill="#000"/>
<path d="M372.80 645.75 L376.30 652.75 L369.30 652.75Z" fill="#000"/>
<path d="M391.83 639.50 L395.33 646.50 L388.33 646.50Z" fill="#000"/>
<path d="M410.86 628.25 L414.36 635.25 L407.36 635.25Z" fill="#000"/>
<path d="M429.89 609.50 L433.39 616.50 L426.39 616.50Z" fill="#000"/>
<path d="M448.92 597.00 L452.42 604.00 L445.42 604.00Z" fill="#000"/>
<path d="M467.95 619.00 L471.45 626.00 L464.45 626.00Z" fill="#000"/>
<path d="M486.98 629.00 L490.48 636.00 L483.48 636.00Z" fill="#000"/>
<path d="M506.01 637.75 L509.51 644.75 L502.51 644.75Z" fill="#000"/>
<path d="M525.04 646.50 L528.54 653.50 L521.54 653.50Z" fill="#000"/>
<path d="M544.07 662.75 L547.57 669.75 L540.57 669.75Z" fill="#000"/>
<path d="M182.50 621.00L182.50 635.00M180.10 621.00L184.90 621.00M180.10 635.00L184.90 635.00" stroke="#5a5a5a" stroke-width="0.85" fill="none"/>
<path d="M201.53 631.00L201.53 639.00M199.13 631.00L203.93 631.00M199.13 639.00L203.93 639.00" stroke="#5a5a5a" stroke-width="0.85" fill="none"/>
<path d="M220.56 644.10L220.56 655.90M218.16 644.10L222.96 644.10M218.16 655.90L222.96 655.90" stroke="#5a5a5a" stroke-width="0.85" fill="none"/>
<path d="M239.59 650.75L239.59 662.75M237.19 650.75L241.99 650.75M237.19 662.75L241.99 662.75" stroke="#5a5a5a" stroke-width="0.85" fill="none"/>
<path d="M258.62 661.25L258.62 671.25M256.22 661.25L261.02 661.25M256.22 671.25L261.02 671.25" stroke="#5a5a5a" stroke-width="0.85" fill="none"/>
<path d="M277.65 667.00L277.65 675.00M275.25 667.00L280.05 667.00M275.25 675.00L280.05 675.00" stroke="#5a5a5a" stroke-width="0.85" fill="none"/>
<path d="M296.68 667.50L296.68 675.50M294.28 667.50L299.08 667.50M294.28 675.50L299.08 675.50" stroke="#5a5a5a" stroke-width="0.85" fill="none"/>
<path d="M315.71 667.00L315.71 675.00M313.31 667.00L318.11 667.00M313.31 675.00L318.11 675.00" stroke="#5a5a5a" stroke-width="0.85" fill="none"/>
<path d="M429.89 689.65L429.89 702.85M427.49 689.65L432.29 689.65M427.49 702.85L432.29 702.85" stroke="#5a5a5a" stroke-width="0.85" fill="none"/>
<path d="M506.01 691.85L506.01 707.65M503.61 691.85L508.41 691.85M503.61 707.65L508.41 707.65" stroke="#5a5a5a" stroke-width="0.85" fill="none"/>
<path d="M178.90 624.40L186.10 631.60M178.90 631.60L186.10 624.40" stroke="#000" stroke-width="1.3" fill="none"/>
<path d="M197.93 631.40L205.13 638.60M197.93 638.60L205.13 631.40" stroke="#000" stroke-width="1.3" fill="none"/>
<path d="M216.96 646.40L224.16 653.60M216.96 653.60L224.16 646.40" stroke="#000" stroke-width="1.3" fill="none"/>
<path d="M235.99 653.15L243.19 660.35M235.99 660.35L243.19 653.15" stroke="#000" stroke-width="1.3" fill="none"/>
<path d="M255.02 662.65L262.22 669.85M255.02 669.85L262.22 662.65" stroke="#000" stroke-width="1.3" fill="none"/>
<path d="M274.05 667.40L281.25 674.60M274.05 674.60L281.25 667.40" stroke="#000" stroke-width="1.3" fill="none"/>
<path d="M293.08 667.90L300.28 675.10M293.08 675.10L300.28 667.90" stroke="#000" stroke-width="1.3" fill="none"/>
<path d="M312.11 667.40L319.31 674.60M312.11 674.60L319.31 667.40" stroke="#000" stroke-width="1.3" fill="none"/>
<path d="M331.14 668.20L338.34 675.40M331.14 675.40L338.34 668.20" stroke="#000" stroke-width="1.3" fill="none"/>
<path d="M350.17 667.90L357.37 675.10M350.17 675.10L357.37 667.90" stroke="#000" stroke-width="1.3" fill="none"/>
<path d="M369.20 664.40L376.40 671.60M369.20 671.60L376.40 664.40" stroke="#000" stroke-width="1.3" fill="none"/>
<path d="M388.23 685.65L395.43 692.85M388.23 692.85L395.43 685.65" stroke="#000" stroke-width="1.3" fill="none"/>
<path d="M407.26 687.65L414.46 694.85M407.26 694.85L414.46 687.65" stroke="#000" stroke-width="1.3" fill="none"/>
<path d="M426.29 692.65L433.49 699.85M426.29 699.85L433.49 692.65" stroke="#000" stroke-width="1.3" fill="none"/>
<path d="M445.32 690.65L452.52 697.85M445.32 697.85L452.52 690.65" stroke="#000" stroke-width="1.3" fill="none"/>
<path d="M464.35 696.15L471.55 703.35M464.35 703.35L471.55 696.15" stroke="#000" stroke-width="1.3" fill="none"/>
<path d="M483.38 698.15L490.58 705.35M483.38 705.35L490.58 698.15" stroke="#000" stroke-width="1.3" fill="none"/>
<path d="M502.41 696.15L509.61 703.35M502.41 703.35L509.61 696.15" stroke="#000" stroke-width="1.3" fill="none"/>
<path d="M521.44 698.15L528.64 705.35M521.44 705.35L528.64 698.15" stroke="#000" stroke-width="1.3" fill="none"/>
<path d="M540.47 698.15L547.67 705.35M540.47 705.35L547.67 698.15" stroke="#000" stroke-width="1.3" fill="none"/>
<path d="M353.77 672.80L353.77 683.20M351.37 672.80L356.17 672.80M351.37 683.20L356.17 683.20" stroke="#5a5a5a" stroke-width="0.85" fill="none"/>
<path d="M372.80 669.90L372.80 681.10M370.40 669.90L375.20 669.90M370.40 681.10L375.20 681.10" stroke="#5a5a5a" stroke-width="0.85" fill="none"/>
<path d="M391.83 663.15L391.83 674.35M389.43 663.15L394.23 663.15M389.43 674.35L394.23 674.35" stroke="#5a5a5a" stroke-width="0.85" fill="none"/>
<path d="M410.86 661.00L410.86 671.00M408.46 661.00L413.26 661.00M408.46 671.00L413.26 671.00" stroke="#5a5a5a" stroke-width="0.85" fill="none"/>
<path d="M429.89 649.10L429.89 660.90M427.49 649.10L432.29 649.10M427.49 660.90L432.29 660.90" stroke="#5a5a5a" stroke-width="0.85" fill="none"/>
<path d="M448.92 647.10L448.92 658.90M446.52 647.10L451.32 647.10M446.52 658.90L451.32 658.90" stroke="#5a5a5a" stroke-width="0.85" fill="none"/>
<path d="M467.95 635.25L467.95 648.25M465.55 635.25L470.35 635.25M465.55 648.25L470.35 648.25" stroke="#5a5a5a" stroke-width="0.85" fill="none"/>
<path d="M486.98 633.55L486.98 644.95M484.58 633.55L489.38 633.55M484.58 644.95L489.38 644.95" stroke="#5a5a5a" stroke-width="0.85" fill="none"/>
<path d="M506.01 628.80L506.01 641.20M503.61 628.80L508.41 628.80M503.61 641.20L508.41 641.20" stroke="#5a5a5a" stroke-width="0.85" fill="none"/>
<path d="M525.04 629.50L525.04 642.50M522.64 629.50L527.44 629.50M522.64 642.50L527.44 642.50" stroke="#5a5a5a" stroke-width="0.85" fill="none"/>
<path d="M544.07 635.05L544.07 647.45M541.67 635.05L546.47 635.05M541.67 647.45L546.47 647.45" stroke="#5a5a5a" stroke-width="0.85" fill="none"/>
<path d="M179.10 733.00L185.90 733.00M182.50 729.60L182.50 736.40" stroke="#000" stroke-width="1.3" fill="none"/>
<path d="M198.13 723.50L204.93 723.50M201.53 720.10L201.53 726.90" stroke="#000" stroke-width="1.3" fill="none"/>
<path d="M217.16 719.25L223.96 719.25M220.56 715.85L220.56 722.65" stroke="#000" stroke-width="1.3" fill="none"/>
<path d="M236.19 716.75L242.99 716.75M239.59 713.35L239.59 720.15" stroke="#000" stroke-width="1.3" fill="none"/>
<path d="M255.22 698.00L262.02 698.00M258.62 694.60L258.62 701.40" stroke="#000" stroke-width="1.3" fill="none"/>
<path d="M274.25 694.75L281.05 694.75M277.65 691.35L277.65 698.15" stroke="#000" stroke-width="1.3" fill="none"/>
<path d="M293.28 691.25L300.08 691.25M296.68 687.85L296.68 694.65" stroke="#000" stroke-width="1.3" fill="none"/>
<path d="M312.31 691.25L319.11 691.25M315.71 687.85L315.71 694.65" stroke="#000" stroke-width="1.3" fill="none"/>
<path d="M331.34 685.00L338.14 685.00M334.74 681.60L334.74 688.40" stroke="#000" stroke-width="1.3" fill="none"/>
<path d="M350.37 678.00L357.17 678.00M353.77 674.60L353.77 681.40" stroke="#000" stroke-width="1.3" fill="none"/>
<path d="M369.40 675.50L376.20 675.50M372.80 672.10L372.80 678.90" stroke="#000" stroke-width="1.3" fill="none"/>
<path d="M388.43 668.75L395.23 668.75M391.83 665.35L391.83 672.15" stroke="#000" stroke-width="1.3" fill="none"/>
<path d="M407.46 666.00L414.26 666.00M410.86 662.60L410.86 669.40" stroke="#000" stroke-width="1.3" fill="none"/>
<path d="M426.49 655.00L433.29 655.00M429.89 651.60L429.89 658.40" stroke="#000" stroke-width="1.3" fill="none"/>
<path d="M445.52 653.00L452.32 653.00M448.92 649.60L448.92 656.40" stroke="#000" stroke-width="1.3" fill="none"/>
<path d="M464.55 641.75L471.35 641.75M467.95 638.35L467.95 645.15" stroke="#000" stroke-width="1.3" fill="none"/>
<path d="M483.58 639.25L490.38 639.25M486.98 635.85L486.98 642.65" stroke="#000" stroke-width="1.3" fill="none"/>
<path d="M502.61 635.00L509.41 635.00M506.01 631.60L506.01 638.40" stroke="#000" stroke-width="1.3" fill="none"/>
<path d="M521.64 636.00L528.44 636.00M525.04 632.60L525.04 639.40" stroke="#000" stroke-width="1.3" fill="none"/>
<path d="M540.67 641.25L547.47 641.25M544.07 637.85L544.07 644.65" stroke="#000" stroke-width="1.3" fill="none"/>
<path d="M258.62 595.00L258.62 606.00M256.22 595.00L261.02 595.00M256.22 606.00L261.02 606.00" stroke="#5a5a5a" stroke-width="0.85" fill="none"/>
<path d="M277.65 594.60L277.65 606.40M275.25 594.60L280.05 594.60M275.25 606.40L280.05 606.40" stroke="#5a5a5a" stroke-width="0.85" fill="none"/>
<path d="M315.71 593.55L315.71 605.95M313.31 593.55L318.11 593.55M313.31 605.95L318.11 605.95" stroke="#5a5a5a" stroke-width="0.85" fill="none"/>
<path d="M391.83 593.50L391.83 603.50M389.43 593.50L394.23 593.50M389.43 603.50L394.23 603.50" stroke="#5a5a5a" stroke-width="0.85" fill="none"/>
<path d="M448.92 592.35L448.92 606.15M446.52 592.35L451.32 592.35M446.52 606.15L451.32 606.15" stroke="#5a5a5a" stroke-width="0.85" fill="none"/>
<path d="M467.95 594.25L467.95 604.25M465.55 594.25L470.35 594.25M465.55 604.25L470.35 604.25" stroke="#5a5a5a" stroke-width="0.85" fill="none"/>
<path d="M486.98 593.75L486.98 604.75M484.58 593.75L489.38 593.75M484.58 604.75L489.38 604.75" stroke="#5a5a5a" stroke-width="0.85" fill="none"/>
<path d="M506.01 593.75L506.01 604.75M503.61 593.75L508.41 593.75M503.61 604.75L508.41 604.75" stroke="#5a5a5a" stroke-width="0.85" fill="none"/>
<path d="M525.04 594.50L525.04 605.50M522.64 594.50L527.44 594.50M522.64 605.50L527.44 605.50" stroke="#5a5a5a" stroke-width="0.85" fill="none"/>
<path d="M182.50 607.50L186.00 611.00L182.50 614.50L179.00 611.00Z" stroke="#000" stroke-width="1.3" fill="#fff"/>
<path d="M201.53 601.25L205.03 604.75L201.53 608.25L198.03 604.75Z" stroke="#000" stroke-width="1.3" fill="#fff"/>
<path d="M220.56 598.75L224.06 602.25L220.56 605.75L217.06 602.25Z" stroke="#000" stroke-width="1.3" fill="#fff"/>
<path d="M239.59 598.75L243.09 602.25L239.59 605.75L236.09 602.25Z" stroke="#000" stroke-width="1.3" fill="#fff"/>
<path d="M258.62 597.00L262.12 600.50L258.62 604.00L255.12 600.50Z" stroke="#000" stroke-width="1.3" fill="#fff"/>
<path d="M277.65 597.00L281.15 600.50L277.65 604.00L274.15 600.50Z" stroke="#000" stroke-width="1.3" fill="#fff"/>
<path d="M296.68 597.00L300.18 600.50L296.68 604.00L293.18 600.50Z" stroke="#000" stroke-width="1.3" fill="#fff"/>
<path d="M315.71 596.25L319.21 599.75L315.71 603.25L312.21 599.75Z" stroke="#000" stroke-width="1.3" fill="#fff"/>
<path d="M334.74 596.25L338.24 599.75L334.74 603.25L331.24 599.75Z" stroke="#000" stroke-width="1.3" fill="#fff"/>
<path d="M353.77 596.25L357.27 599.75L353.77 603.25L350.27 599.75Z" stroke="#000" stroke-width="1.3" fill="#fff"/>
<path d="M372.80 596.25L376.30 599.75L372.80 603.25L369.30 599.75Z" stroke="#000" stroke-width="1.3" fill="#fff"/>
<path d="M391.83 595.00L395.33 598.50L391.83 602.00L388.33 598.50Z" stroke="#000" stroke-width="1.3" fill="#fff"/>
<path d="M410.86 595.75L414.36 599.25L410.86 602.75L407.36 599.25Z" stroke="#000" stroke-width="1.3" fill="#fff"/>
<path d="M429.89 595.75L433.39 599.25L429.89 602.75L426.39 599.25Z" stroke="#000" stroke-width="1.3" fill="#fff"/>
<path d="M448.92 595.75L452.42 599.25L448.92 602.75L445.42 599.25Z" stroke="#000" stroke-width="1.3" fill="#fff"/>
<path d="M467.95 595.75L471.45 599.25L467.95 602.75L464.45 599.25Z" stroke="#000" stroke-width="1.3" fill="#fff"/>
<path d="M486.98 595.75L490.48 599.25L486.98 602.75L483.48 599.25Z" stroke="#000" stroke-width="1.3" fill="#fff"/>
<path d="M506.01 595.75L509.51 599.25L506.01 602.75L502.51 599.25Z" stroke="#000" stroke-width="1.3" fill="#fff"/>
<path d="M525.04 596.50L528.54 600.00L525.04 603.50L521.54 600.00Z" stroke="#000" stroke-width="1.3" fill="#fff"/>
<path d="M544.07 596.50L547.57 600.00L544.07 603.50L540.57 600.00Z" stroke="#000" stroke-width="1.3" fill="#fff"/>
<path d="M429.89 591.50L429.89 605.50M427.49 591.50L432.29 591.50M427.49 605.50L432.29 605.50" stroke="#5a5a5a" stroke-width="0.85" fill="none"/>
<path d="M448.92 609.25L448.92 619.25M446.52 609.25L451.32 609.25M446.52 619.25L451.32 619.25" stroke="#5a5a5a" stroke-width="0.85" fill="none"/>
<path d="M467.95 613.00L467.95 623.00M465.55 613.00L470.35 613.00M465.55 623.00L470.35 623.00" stroke="#5a5a5a" stroke-width="0.85" fill="none"/>
<polyline points="182.50,760.50 201.53,756.25 220.56,749.75 239.59,740.50 258.62,724.25 277.65,708.75 296.68,693.00 315.71,671.75 334.74,667.50 353.77,666.25 372.80,657.50 391.83,635.00 410.86,618.50 429.89,598.50 448.92,614.25 467.95,618.00 486.98,613.00 506.01,612.50 525.04,612.50 544.07,613.75" fill="none" stroke="#000" stroke-width="1.5" stroke-linejoin="round"/>
<circle cx="182.50" cy="760.50" r="3.4" fill="#000"/>
<circle cx="201.53" cy="756.25" r="3.4" fill="#000"/>
<circle cx="220.56" cy="749.75" r="3.4" fill="#000"/>
<circle cx="239.59" cy="740.50" r="3.4" fill="#000"/>
<circle cx="258.62" cy="724.25" r="3.4" fill="#000"/>
<circle cx="277.65" cy="708.75" r="3.4" fill="#000"/>
<circle cx="296.68" cy="693.00" r="3.4" fill="#000"/>
<circle cx="315.71" cy="671.75" r="3.4" fill="#000"/>
<circle cx="334.74" cy="667.50" r="3.4" fill="#000"/>
<circle cx="353.77" cy="666.25" r="3.4" fill="#000"/>
<circle cx="372.80" cy="657.50" r="3.4" fill="#000"/>
<circle cx="391.83" cy="635.00" r="3.4" fill="#000"/>
<circle cx="410.86" cy="618.50" r="3.4" fill="#000"/>
<circle cx="429.89" cy="598.50" r="3.4" fill="#000"/>
<circle cx="448.92" cy="614.25" r="3.4" fill="#000"/>
<circle cx="467.95" cy="618.00" r="3.4" fill="#000"/>
<circle cx="486.98" cy="613.00" r="3.4" fill="#000"/>
<circle cx="506.01" cy="612.50" r="3.4" fill="#000"/>
<circle cx="525.04" cy="612.50" r="3.4" fill="#000"/>
<circle cx="544.07" cy="613.75" r="3.4" fill="#000"/>
<path d="M296.68 664.00L296.68 677.00M294.28 664.00L299.08 664.00M294.28 677.00L299.08 677.00" stroke="#5a5a5a" stroke-width="0.85" fill="none"/>
<path d="M315.71 662.50L315.71 678.50M313.31 662.50L318.11 662.50M313.31 678.50L318.11 678.50" stroke="#5a5a5a" stroke-width="0.85" fill="none"/>
<path d="M334.74 657.25L334.74 671.25M332.34 657.25L337.14 657.25M332.34 671.25L337.14 671.25" stroke="#5a5a5a" stroke-width="0.85" fill="none"/>
<path d="M353.77 657.25L353.77 671.25M351.37 657.25L356.17 657.25M351.37 671.25L356.17 671.25" stroke="#5a5a5a" stroke-width="0.85" fill="none"/>
<path d="M506.01 595.25L506.01 603.25M503.61 595.25L508.41 595.25M503.61 603.25L508.41 603.25" stroke="#5a5a5a" stroke-width="0.85" fill="none"/>
<polyline points="182.50,756.75 201.53,748.00 220.56,723.50 239.59,705.00 258.62,694.75 277.65,677.25 296.68,670.50 315.71,670.50 334.74,664.25 353.77,664.25 372.80,668.00 391.83,658.50 410.86,644.75 429.89,635.00 448.92,621.75 467.95,616.75 486.98,610.50 506.01,599.25 525.04,609.25 544.07,618.75" fill="none" stroke="#000" stroke-width="1.5" stroke-linejoin="round"/>
<rect x="179.05" y="753.30" width="6.9" height="6.9" fill="#000"/>
<rect x="198.08" y="744.55" width="6.9" height="6.9" fill="#000"/>
<rect x="217.11" y="720.05" width="6.9" height="6.9" fill="#000"/>
<rect x="236.14" y="701.55" width="6.9" height="6.9" fill="#000"/>
<rect x="255.17" y="691.30" width="6.9" height="6.9" fill="#000"/>
<rect x="274.20" y="673.80" width="6.9" height="6.9" fill="#000"/>
<rect x="293.23" y="667.05" width="6.9" height="6.9" fill="#000"/>
<rect x="312.26" y="667.05" width="6.9" height="6.9" fill="#000"/>
<rect x="331.29" y="660.80" width="6.9" height="6.9" fill="#000"/>
<rect x="350.32" y="660.80" width="6.9" height="6.9" fill="#000"/>
<rect x="369.35" y="664.55" width="6.9" height="6.9" fill="#000"/>
<rect x="388.38" y="655.05" width="6.9" height="6.9" fill="#000"/>
<rect x="407.41" y="641.30" width="6.9" height="6.9" fill="#000"/>
<rect x="426.44" y="631.55" width="6.9" height="6.9" fill="#000"/>
<rect x="445.47" y="618.30" width="6.9" height="6.9" fill="#000"/>
<rect x="464.50" y="613.30" width="6.9" height="6.9" fill="#000"/>
<rect x="483.53" y="607.05" width="6.9" height="6.9" fill="#000"/>
<rect x="502.56" y="595.80" width="6.9" height="6.9" fill="#000"/>
<rect x="521.59" y="605.80" width="6.9" height="6.9" fill="#000"/>
<rect x="540.62" y="615.30" width="6.9" height="6.9" fill="#000"/>
<rect x="553.6" y="46.2" width="1.6" height="1" fill="#777"/>
<text x="358.60" y="813.50" font-size="13.2" text-anchor="middle" font-weight="bold" fill="#1a1a1a" stroke="#1a1a1a" stroke-width="0.25" >Time (day)</text>
</svg></body></html>
